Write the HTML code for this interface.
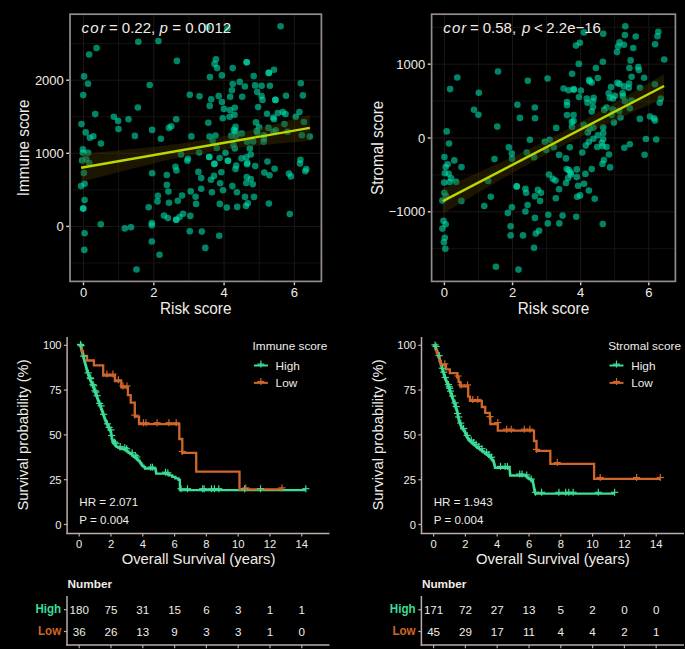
<!DOCTYPE html>
<html><head><meta charset="utf-8"><style>
html,body{margin:0;padding:0;background:#000;width:685px;height:649px;overflow:hidden}
svg{display:block;font-family:"Liberation Sans", sans-serif}
</style></head><body>
<svg width="685" height="649" viewBox="0 0 685 649">
<rect width="685" height="649" fill="#000"/>
<line x1="118.65" y1="14.20" x2="118.65" y2="281.40" stroke="#1c1714" stroke-width="0.8" />
<line x1="188.95" y1="14.20" x2="188.95" y2="281.40" stroke="#1c1714" stroke-width="0.8" />
<line x1="259.25" y1="14.20" x2="259.25" y2="281.40" stroke="#1c1714" stroke-width="0.8" />
<line x1="70.00" y1="262.95" x2="321.40" y2="262.95" stroke="#1c1714" stroke-width="0.8" />
<line x1="70.00" y1="189.85" x2="321.40" y2="189.85" stroke="#1c1714" stroke-width="0.8" />
<line x1="70.00" y1="116.75" x2="321.40" y2="116.75" stroke="#1c1714" stroke-width="0.8" />
<line x1="70.00" y1="43.65" x2="321.40" y2="43.65" stroke="#1c1714" stroke-width="0.8" />
<line x1="83.50" y1="14.20" x2="83.50" y2="281.40" stroke="#1c1714" stroke-width="1.0" />
<line x1="153.80" y1="14.20" x2="153.80" y2="281.40" stroke="#1c1714" stroke-width="1.0" />
<line x1="224.10" y1="14.20" x2="224.10" y2="281.40" stroke="#1c1714" stroke-width="1.0" />
<line x1="294.40" y1="14.20" x2="294.40" y2="281.40" stroke="#1c1714" stroke-width="1.0" />
<line x1="70.00" y1="226.40" x2="321.40" y2="226.40" stroke="#1c1714" stroke-width="1.0" />
<line x1="70.00" y1="153.30" x2="321.40" y2="153.30" stroke="#1c1714" stroke-width="1.0" />
<line x1="70.00" y1="80.20" x2="321.40" y2="80.20" stroke="#1c1714" stroke-width="1.0" />
<circle cx="138.3" cy="41.7" r="3.3" fill="#00e0aa" fill-opacity="0.6"/>
<circle cx="96.6" cy="48.0" r="3.3" fill="#00e0aa" fill-opacity="0.6"/>
<circle cx="89.1" cy="54.5" r="3.3" fill="#00e0aa" fill-opacity="0.6"/>
<circle cx="84.1" cy="76.4" r="3.3" fill="#00e0aa" fill-opacity="0.6"/>
<circle cx="88.0" cy="83.7" r="3.3" fill="#00e0aa" fill-opacity="0.6"/>
<circle cx="149.7" cy="85.0" r="3.3" fill="#00e0aa" fill-opacity="0.6"/>
<circle cx="83.2" cy="95.1" r="3.3" fill="#00e0aa" fill-opacity="0.6"/>
<circle cx="158.4" cy="41.0" r="3.3" fill="#00e0aa" fill-opacity="0.6"/>
<circle cx="176.9" cy="60.9" r="3.3" fill="#00e0aa" fill-opacity="0.6"/>
<circle cx="216.0" cy="59.3" r="3.3" fill="#00e0aa" fill-opacity="0.6"/>
<circle cx="214.6" cy="63.9" r="3.3" fill="#00e0aa" fill-opacity="0.6"/>
<circle cx="217.1" cy="68.1" r="3.3" fill="#00e0aa" fill-opacity="0.6"/>
<circle cx="232.7" cy="68.1" r="3.3" fill="#00e0aa" fill-opacity="0.6"/>
<circle cx="209.9" cy="77.1" r="3.3" fill="#00e0aa" fill-opacity="0.6"/>
<circle cx="221.9" cy="75.4" r="3.3" fill="#00e0aa" fill-opacity="0.6"/>
<circle cx="232.7" cy="84.0" r="3.3" fill="#00e0aa" fill-opacity="0.6"/>
<circle cx="231.9" cy="90.2" r="3.3" fill="#00e0aa" fill-opacity="0.6"/>
<circle cx="189.8" cy="94.7" r="3.3" fill="#00e0aa" fill-opacity="0.6"/>
<circle cx="199.5" cy="96.2" r="3.3" fill="#00e0aa" fill-opacity="0.6"/>
<circle cx="218.7" cy="96.1" r="3.3" fill="#00e0aa" fill-opacity="0.6"/>
<circle cx="230.2" cy="96.8" r="3.3" fill="#00e0aa" fill-opacity="0.6"/>
<circle cx="211.2" cy="99.3" r="3.3" fill="#00e0aa" fill-opacity="0.6"/>
<circle cx="221.9" cy="102.0" r="3.3" fill="#00e0aa" fill-opacity="0.6"/>
<circle cx="207.4" cy="27.2" r="3.3" fill="#00e0aa" fill-opacity="0.6"/>
<circle cx="227.5" cy="28.6" r="3.3" fill="#00e0aa" fill-opacity="0.6"/>
<circle cx="280.6" cy="26.2" r="3.3" fill="#00e0aa" fill-opacity="0.6"/>
<circle cx="246.7" cy="62.2" r="3.3" fill="#00e0aa" fill-opacity="0.6"/>
<circle cx="246.7" cy="62.2" r="3.3" fill="#00e0aa" fill-opacity="0.6"/>
<circle cx="274.0" cy="69.7" r="3.3" fill="#00e0aa" fill-opacity="0.6"/>
<circle cx="268.8" cy="72.9" r="3.3" fill="#00e0aa" fill-opacity="0.6"/>
<circle cx="268.8" cy="72.9" r="3.3" fill="#00e0aa" fill-opacity="0.6"/>
<circle cx="253.7" cy="76.1" r="3.3" fill="#00e0aa" fill-opacity="0.6"/>
<circle cx="239.7" cy="81.9" r="3.3" fill="#00e0aa" fill-opacity="0.6"/>
<circle cx="244.9" cy="86.5" r="3.3" fill="#00e0aa" fill-opacity="0.6"/>
<circle cx="255.1" cy="85.4" r="3.3" fill="#00e0aa" fill-opacity="0.6"/>
<circle cx="261.6" cy="85.7" r="3.3" fill="#00e0aa" fill-opacity="0.6"/>
<circle cx="269.9" cy="85.7" r="3.3" fill="#00e0aa" fill-opacity="0.6"/>
<circle cx="300.8" cy="83.3" r="3.3" fill="#00e0aa" fill-opacity="0.6"/>
<circle cx="257.1" cy="91.9" r="3.3" fill="#00e0aa" fill-opacity="0.6"/>
<circle cx="242.2" cy="96.8" r="3.3" fill="#00e0aa" fill-opacity="0.6"/>
<circle cx="261.6" cy="96.1" r="3.3" fill="#00e0aa" fill-opacity="0.6"/>
<circle cx="262.5" cy="99.9" r="3.3" fill="#00e0aa" fill-opacity="0.6"/>
<circle cx="275.4" cy="99.9" r="3.3" fill="#00e0aa" fill-opacity="0.6"/>
<circle cx="275.4" cy="99.9" r="3.3" fill="#00e0aa" fill-opacity="0.6"/>
<circle cx="286.0" cy="95.8" r="3.3" fill="#00e0aa" fill-opacity="0.6"/>
<circle cx="302.9" cy="95.4" r="3.3" fill="#00e0aa" fill-opacity="0.6"/>
<circle cx="137.9" cy="107.5" r="3.3" fill="#00e0aa" fill-opacity="0.6"/>
<circle cx="95.2" cy="114.1" r="3.3" fill="#00e0aa" fill-opacity="0.6"/>
<circle cx="113.8" cy="116.8" r="3.3" fill="#00e0aa" fill-opacity="0.6"/>
<circle cx="118.1" cy="120.9" r="3.3" fill="#00e0aa" fill-opacity="0.6"/>
<circle cx="128.5" cy="119.2" r="3.3" fill="#00e0aa" fill-opacity="0.6"/>
<circle cx="81.5" cy="124.1" r="3.3" fill="#00e0aa" fill-opacity="0.6"/>
<circle cx="118.5" cy="129.0" r="3.3" fill="#00e0aa" fill-opacity="0.6"/>
<circle cx="152.1" cy="129.9" r="3.3" fill="#00e0aa" fill-opacity="0.6"/>
<circle cx="85.7" cy="132.4" r="3.3" fill="#00e0aa" fill-opacity="0.6"/>
<circle cx="93.3" cy="136.2" r="3.3" fill="#00e0aa" fill-opacity="0.6"/>
<circle cx="89.8" cy="137.7" r="3.3" fill="#00e0aa" fill-opacity="0.6"/>
<circle cx="134.9" cy="135.9" r="3.3" fill="#00e0aa" fill-opacity="0.6"/>
<circle cx="100.9" cy="143.5" r="3.3" fill="#00e0aa" fill-opacity="0.6"/>
<circle cx="83.9" cy="173.0" r="3.3" fill="#00e0aa" fill-opacity="0.6"/>
<circle cx="152.1" cy="173.3" r="3.3" fill="#00e0aa" fill-opacity="0.6"/>
<circle cx="84.6" cy="183.7" r="3.3" fill="#00e0aa" fill-opacity="0.6"/>
<circle cx="81.1" cy="186.1" r="3.3" fill="#00e0aa" fill-opacity="0.6"/>
<circle cx="82.9" cy="149.2" r="3.3" fill="#00e0aa" fill-opacity="0.6"/>
<circle cx="82.9" cy="152.7" r="3.3" fill="#00e0aa" fill-opacity="0.6"/>
<circle cx="88.1" cy="152.7" r="3.3" fill="#00e0aa" fill-opacity="0.6"/>
<circle cx="82.1" cy="160.4" r="3.3" fill="#00e0aa" fill-opacity="0.6"/>
<circle cx="86.2" cy="159.3" r="3.3" fill="#00e0aa" fill-opacity="0.6"/>
<circle cx="89.3" cy="163.1" r="3.3" fill="#00e0aa" fill-opacity="0.6"/>
<circle cx="209.7" cy="105.9" r="3.3" fill="#00e0aa" fill-opacity="0.6"/>
<circle cx="223.9" cy="108.9" r="3.3" fill="#00e0aa" fill-opacity="0.6"/>
<circle cx="230.0" cy="110.1" r="3.3" fill="#00e0aa" fill-opacity="0.6"/>
<circle cx="234.8" cy="107.8" r="3.3" fill="#00e0aa" fill-opacity="0.6"/>
<circle cx="229.6" cy="116.8" r="3.3" fill="#00e0aa" fill-opacity="0.6"/>
<circle cx="234.5" cy="114.7" r="3.3" fill="#00e0aa" fill-opacity="0.6"/>
<circle cx="222.7" cy="118.2" r="3.3" fill="#00e0aa" fill-opacity="0.6"/>
<circle cx="208.3" cy="122.7" r="3.3" fill="#00e0aa" fill-opacity="0.6"/>
<circle cx="235.5" cy="126.9" r="3.3" fill="#00e0aa" fill-opacity="0.6"/>
<circle cx="233.8" cy="130.0" r="3.3" fill="#00e0aa" fill-opacity="0.6"/>
<circle cx="235.5" cy="131.4" r="3.3" fill="#00e0aa" fill-opacity="0.6"/>
<circle cx="209.5" cy="136.6" r="3.3" fill="#00e0aa" fill-opacity="0.6"/>
<circle cx="215.5" cy="135.5" r="3.3" fill="#00e0aa" fill-opacity="0.6"/>
<circle cx="212.6" cy="141.1" r="3.3" fill="#00e0aa" fill-opacity="0.6"/>
<circle cx="231.3" cy="135.9" r="3.3" fill="#00e0aa" fill-opacity="0.6"/>
<circle cx="236.2" cy="135.9" r="3.3" fill="#00e0aa" fill-opacity="0.6"/>
<circle cx="233.4" cy="144.9" r="3.3" fill="#00e0aa" fill-opacity="0.6"/>
<circle cx="216.8" cy="148.0" r="3.3" fill="#00e0aa" fill-opacity="0.6"/>
<circle cx="234.8" cy="148.4" r="3.3" fill="#00e0aa" fill-opacity="0.6"/>
<circle cx="176.2" cy="119.2" r="3.3" fill="#00e0aa" fill-opacity="0.6"/>
<circle cx="171.3" cy="126.2" r="3.3" fill="#00e0aa" fill-opacity="0.6"/>
<circle cx="168.9" cy="127.9" r="3.3" fill="#00e0aa" fill-opacity="0.6"/>
<circle cx="160.9" cy="138.7" r="3.3" fill="#00e0aa" fill-opacity="0.6"/>
<circle cx="191.4" cy="136.4" r="3.3" fill="#00e0aa" fill-opacity="0.6"/>
<circle cx="181.0" cy="154.4" r="3.3" fill="#00e0aa" fill-opacity="0.6"/>
<circle cx="188.0" cy="158.7" r="3.3" fill="#00e0aa" fill-opacity="0.6"/>
<circle cx="187.3" cy="160.8" r="3.3" fill="#00e0aa" fill-opacity="0.6"/>
<circle cx="175.5" cy="166.7" r="3.3" fill="#00e0aa" fill-opacity="0.6"/>
<circle cx="176.5" cy="170.5" r="3.3" fill="#00e0aa" fill-opacity="0.6"/>
<circle cx="166.8" cy="175.0" r="3.3" fill="#00e0aa" fill-opacity="0.6"/>
<circle cx="166.8" cy="184.9" r="3.3" fill="#00e0aa" fill-opacity="0.6"/>
<circle cx="168.4" cy="191.6" r="3.3" fill="#00e0aa" fill-opacity="0.6"/>
<circle cx="190.7" cy="191.4" r="3.3" fill="#00e0aa" fill-opacity="0.6"/>
<circle cx="199.1" cy="152.5" r="3.3" fill="#00e0aa" fill-opacity="0.6"/>
<circle cx="225.5" cy="152.8" r="3.3" fill="#00e0aa" fill-opacity="0.6"/>
<circle cx="209.2" cy="157.0" r="3.3" fill="#00e0aa" fill-opacity="0.6"/>
<circle cx="209.2" cy="157.0" r="3.3" fill="#00e0aa" fill-opacity="0.6"/>
<circle cx="219.6" cy="158.0" r="3.3" fill="#00e0aa" fill-opacity="0.6"/>
<circle cx="228.0" cy="160.8" r="3.3" fill="#00e0aa" fill-opacity="0.6"/>
<circle cx="228.0" cy="160.8" r="3.3" fill="#00e0aa" fill-opacity="0.6"/>
<circle cx="214.4" cy="163.9" r="3.3" fill="#00e0aa" fill-opacity="0.6"/>
<circle cx="214.4" cy="163.9" r="3.3" fill="#00e0aa" fill-opacity="0.6"/>
<circle cx="236.2" cy="165.6" r="3.3" fill="#00e0aa" fill-opacity="0.6"/>
<circle cx="235.5" cy="169.1" r="3.3" fill="#00e0aa" fill-opacity="0.6"/>
<circle cx="198.4" cy="171.9" r="3.3" fill="#00e0aa" fill-opacity="0.6"/>
<circle cx="221.3" cy="172.2" r="3.3" fill="#00e0aa" fill-opacity="0.6"/>
<circle cx="201.2" cy="178.1" r="3.3" fill="#00e0aa" fill-opacity="0.6"/>
<circle cx="214.0" cy="175.9" r="3.3" fill="#00e0aa" fill-opacity="0.6"/>
<circle cx="210.9" cy="179.7" r="3.3" fill="#00e0aa" fill-opacity="0.6"/>
<circle cx="220.1" cy="183.2" r="3.3" fill="#00e0aa" fill-opacity="0.6"/>
<circle cx="232.4" cy="186.1" r="3.3" fill="#00e0aa" fill-opacity="0.6"/>
<circle cx="201.2" cy="188.8" r="3.3" fill="#00e0aa" fill-opacity="0.6"/>
<circle cx="223.0" cy="190.2" r="3.3" fill="#00e0aa" fill-opacity="0.6"/>
<circle cx="211.9" cy="192.3" r="3.3" fill="#00e0aa" fill-opacity="0.6"/>
<circle cx="236.9" cy="192.3" r="3.3" fill="#00e0aa" fill-opacity="0.6"/>
<circle cx="258.1" cy="107.1" r="3.3" fill="#00e0aa" fill-opacity="0.6"/>
<circle cx="267.0" cy="113.8" r="3.3" fill="#00e0aa" fill-opacity="0.6"/>
<circle cx="277.8" cy="113.0" r="3.3" fill="#00e0aa" fill-opacity="0.6"/>
<circle cx="273.3" cy="117.5" r="3.3" fill="#00e0aa" fill-opacity="0.6"/>
<circle cx="274.0" cy="119.2" r="3.3" fill="#00e0aa" fill-opacity="0.6"/>
<circle cx="256.0" cy="122.4" r="3.3" fill="#00e0aa" fill-opacity="0.6"/>
<circle cx="259.1" cy="127.2" r="3.3" fill="#00e0aa" fill-opacity="0.6"/>
<circle cx="268.5" cy="127.9" r="3.3" fill="#00e0aa" fill-opacity="0.6"/>
<circle cx="241.8" cy="133.5" r="3.3" fill="#00e0aa" fill-opacity="0.6"/>
<circle cx="256.7" cy="131.0" r="3.3" fill="#00e0aa" fill-opacity="0.6"/>
<circle cx="257.4" cy="133.1" r="3.3" fill="#00e0aa" fill-opacity="0.6"/>
<circle cx="275.8" cy="130.3" r="3.3" fill="#00e0aa" fill-opacity="0.6"/>
<circle cx="273.3" cy="131.7" r="3.3" fill="#00e0aa" fill-opacity="0.6"/>
<circle cx="264.0" cy="135.2" r="3.3" fill="#00e0aa" fill-opacity="0.6"/>
<circle cx="264.0" cy="138.7" r="3.3" fill="#00e0aa" fill-opacity="0.6"/>
<circle cx="247.0" cy="141.8" r="3.3" fill="#00e0aa" fill-opacity="0.6"/>
<circle cx="253.2" cy="141.4" r="3.3" fill="#00e0aa" fill-opacity="0.6"/>
<circle cx="263.6" cy="141.8" r="3.3" fill="#00e0aa" fill-opacity="0.6"/>
<circle cx="249.8" cy="148.4" r="3.3" fill="#00e0aa" fill-opacity="0.6"/>
<circle cx="282.8" cy="112.0" r="3.3" fill="#00e0aa" fill-opacity="0.6"/>
<circle cx="285.5" cy="114.0" r="3.3" fill="#00e0aa" fill-opacity="0.6"/>
<circle cx="299.4" cy="112.0" r="3.3" fill="#00e0aa" fill-opacity="0.6"/>
<circle cx="295.8" cy="116.7" r="3.3" fill="#00e0aa" fill-opacity="0.6"/>
<circle cx="303.9" cy="122.0" r="3.3" fill="#00e0aa" fill-opacity="0.6"/>
<circle cx="284.5" cy="124.1" r="3.3" fill="#00e0aa" fill-opacity="0.6"/>
<circle cx="287.6" cy="131.7" r="3.3" fill="#00e0aa" fill-opacity="0.6"/>
<circle cx="301.8" cy="135.2" r="3.3" fill="#00e0aa" fill-opacity="0.6"/>
<circle cx="309.8" cy="136.6" r="3.3" fill="#00e0aa" fill-opacity="0.6"/>
<circle cx="250.8" cy="154.5" r="3.3" fill="#00e0aa" fill-opacity="0.6"/>
<circle cx="241.5" cy="158.4" r="3.3" fill="#00e0aa" fill-opacity="0.6"/>
<circle cx="246.3" cy="157.3" r="3.3" fill="#00e0aa" fill-opacity="0.6"/>
<circle cx="247.4" cy="162.9" r="3.3" fill="#00e0aa" fill-opacity="0.6"/>
<circle cx="247.0" cy="164.2" r="3.3" fill="#00e0aa" fill-opacity="0.6"/>
<circle cx="255.2" cy="166.0" r="3.3" fill="#00e0aa" fill-opacity="0.6"/>
<circle cx="267.5" cy="161.5" r="3.3" fill="#00e0aa" fill-opacity="0.6"/>
<circle cx="274.6" cy="168.8" r="3.3" fill="#00e0aa" fill-opacity="0.6"/>
<circle cx="264.3" cy="172.6" r="3.3" fill="#00e0aa" fill-opacity="0.6"/>
<circle cx="269.5" cy="175.3" r="3.3" fill="#00e0aa" fill-opacity="0.6"/>
<circle cx="246.7" cy="177.1" r="3.3" fill="#00e0aa" fill-opacity="0.6"/>
<circle cx="250.8" cy="179.1" r="3.3" fill="#00e0aa" fill-opacity="0.6"/>
<circle cx="246.3" cy="183.0" r="3.3" fill="#00e0aa" fill-opacity="0.6"/>
<circle cx="252.9" cy="184.3" r="3.3" fill="#00e0aa" fill-opacity="0.6"/>
<circle cx="300.4" cy="159.7" r="3.3" fill="#00e0aa" fill-opacity="0.6"/>
<circle cx="300.0" cy="163.6" r="3.3" fill="#00e0aa" fill-opacity="0.6"/>
<circle cx="306.3" cy="169.1" r="3.3" fill="#00e0aa" fill-opacity="0.6"/>
<circle cx="305.3" cy="171.2" r="3.3" fill="#00e0aa" fill-opacity="0.6"/>
<circle cx="289.0" cy="173.6" r="3.3" fill="#00e0aa" fill-opacity="0.6"/>
<circle cx="290.9" cy="176.4" r="3.3" fill="#00e0aa" fill-opacity="0.6"/>
<circle cx="84.6" cy="200.0" r="3.3" fill="#00e0aa" fill-opacity="0.6"/>
<circle cx="83.2" cy="208.6" r="3.3" fill="#00e0aa" fill-opacity="0.6"/>
<circle cx="83.2" cy="208.6" r="3.3" fill="#00e0aa" fill-opacity="0.6"/>
<circle cx="148.7" cy="207.2" r="3.3" fill="#00e0aa" fill-opacity="0.6"/>
<circle cx="100.8" cy="224.2" r="3.3" fill="#00e0aa" fill-opacity="0.6"/>
<circle cx="124.8" cy="228.4" r="3.3" fill="#00e0aa" fill-opacity="0.6"/>
<circle cx="131.0" cy="227.3" r="3.3" fill="#00e0aa" fill-opacity="0.6"/>
<circle cx="151.8" cy="223.1" r="3.3" fill="#00e0aa" fill-opacity="0.6"/>
<circle cx="151.8" cy="225.2" r="3.3" fill="#00e0aa" fill-opacity="0.6"/>
<circle cx="84.6" cy="233.2" r="3.3" fill="#00e0aa" fill-opacity="0.6"/>
<circle cx="151.8" cy="241.5" r="3.3" fill="#00e0aa" fill-opacity="0.6"/>
<circle cx="84.3" cy="249.9" r="3.3" fill="#00e0aa" fill-opacity="0.6"/>
<circle cx="136.5" cy="269.5" r="3.3" fill="#00e0aa" fill-opacity="0.6"/>
<circle cx="157.9" cy="195.8" r="3.3" fill="#00e0aa" fill-opacity="0.6"/>
<circle cx="157.5" cy="201.4" r="3.3" fill="#00e0aa" fill-opacity="0.6"/>
<circle cx="169.0" cy="202.8" r="3.3" fill="#00e0aa" fill-opacity="0.6"/>
<circle cx="177.8" cy="200.7" r="3.3" fill="#00e0aa" fill-opacity="0.6"/>
<circle cx="182.1" cy="195.5" r="3.3" fill="#00e0aa" fill-opacity="0.6"/>
<circle cx="195.6" cy="196.7" r="3.3" fill="#00e0aa" fill-opacity="0.6"/>
<circle cx="196.1" cy="203.9" r="3.3" fill="#00e0aa" fill-opacity="0.6"/>
<circle cx="219.8" cy="203.9" r="3.3" fill="#00e0aa" fill-opacity="0.6"/>
<circle cx="226.8" cy="207.6" r="3.3" fill="#00e0aa" fill-opacity="0.6"/>
<circle cx="237.2" cy="206.9" r="3.3" fill="#00e0aa" fill-opacity="0.6"/>
<circle cx="164.0" cy="215.6" r="3.3" fill="#00e0aa" fill-opacity="0.6"/>
<circle cx="167.9" cy="218.0" r="3.3" fill="#00e0aa" fill-opacity="0.6"/>
<circle cx="176.2" cy="219.8" r="3.3" fill="#00e0aa" fill-opacity="0.6"/>
<circle cx="176.2" cy="219.8" r="3.3" fill="#00e0aa" fill-opacity="0.6"/>
<circle cx="179.6" cy="217.0" r="3.3" fill="#00e0aa" fill-opacity="0.6"/>
<circle cx="183.1" cy="213.8" r="3.3" fill="#00e0aa" fill-opacity="0.6"/>
<circle cx="190.3" cy="215.9" r="3.3" fill="#00e0aa" fill-opacity="0.6"/>
<circle cx="189.8" cy="231.2" r="3.3" fill="#00e0aa" fill-opacity="0.6"/>
<circle cx="201.8" cy="231.6" r="3.3" fill="#00e0aa" fill-opacity="0.6"/>
<circle cx="219.2" cy="235.7" r="3.3" fill="#00e0aa" fill-opacity="0.6"/>
<circle cx="205.3" cy="247.9" r="3.3" fill="#00e0aa" fill-opacity="0.6"/>
<circle cx="159.5" cy="254.7" r="3.3" fill="#00e0aa" fill-opacity="0.6"/>
<circle cx="245.0" cy="196.9" r="3.3" fill="#00e0aa" fill-opacity="0.6"/>
<circle cx="254.0" cy="196.9" r="3.3" fill="#00e0aa" fill-opacity="0.6"/>
<circle cx="247.8" cy="203.2" r="3.3" fill="#00e0aa" fill-opacity="0.6"/>
<circle cx="246.0" cy="206.0" r="3.3" fill="#00e0aa" fill-opacity="0.6"/>
<circle cx="268.9" cy="203.6" r="3.3" fill="#00e0aa" fill-opacity="0.6"/>
<circle cx="289.8" cy="214.0" r="3.3" fill="#00e0aa" fill-opacity="0.6"/>
<polygon points="81.1,153.6 86.8,153.1 92.5,152.7 98.3,152.2 104.0,151.7 109.7,151.2 115.4,150.7 121.1,150.1 126.9,149.6 132.6,149.1 138.3,148.5 144.0,147.9 149.7,147.3 155.5,146.7 161.2,146.0 166.9,145.3 172.6,144.6 178.3,143.9 184.1,143.1 189.8,142.2 195.5,141.3 201.2,140.3 206.9,139.3 212.7,138.3 218.4,137.2 224.1,136.0 229.8,134.8 235.5,133.5 241.3,132.3 247.0,130.9 252.7,129.6 258.4,128.2 264.1,126.8 269.9,125.4 275.6,124.0 281.3,122.5 287.0,121.0 292.7,119.6 298.5,118.1 304.2,116.6 309.9,115.1 309.9,140.7 304.2,141.2 298.5,141.7 292.7,142.2 287.0,142.7 281.3,143.3 275.6,143.8 269.9,144.4 264.1,144.9 258.4,145.5 252.7,146.2 247.0,146.8 241.3,147.5 235.5,148.2 229.8,148.9 224.1,149.7 218.4,150.6 212.7,151.4 206.9,152.4 201.2,153.4 195.5,154.4 189.8,155.5 184.1,156.6 178.3,157.8 172.6,159.1 166.9,160.3 161.2,161.6 155.5,163.0 149.7,164.4 144.0,165.7 138.3,167.2 132.6,168.6 126.9,170.0 121.1,171.5 115.4,173.0 109.7,174.4 104.0,175.9 98.3,177.4 92.5,179.0 86.8,180.5 81.1,182.0" fill="#463700" fill-opacity="0.4"/>
<line x1="81.10" y1="167.80" x2="309.90" y2="127.90" stroke="#bcd800" stroke-width="2.4" stroke-linecap="butt"/>
<rect x="70.00" y="14.20" width="251.40" height="267.20" fill="none" stroke="#958c88" stroke-width="1.7"/>
<line x1="83.50" y1="282.40" x2="83.50" y2="285.20" stroke="#ddd6d4" stroke-width="1.4" />
<text x="83.50" y="297.00" font-size="13" text-anchor="middle" fill="#f0ece8" font-weight="normal" font-style="normal" >0</text>
<line x1="153.80" y1="282.40" x2="153.80" y2="285.20" stroke="#ddd6d4" stroke-width="1.4" />
<text x="153.80" y="297.00" font-size="13" text-anchor="middle" fill="#f0ece8" font-weight="normal" font-style="normal" >2</text>
<line x1="224.10" y1="282.40" x2="224.10" y2="285.20" stroke="#ddd6d4" stroke-width="1.4" />
<text x="224.10" y="297.00" font-size="13" text-anchor="middle" fill="#f0ece8" font-weight="normal" font-style="normal" >4</text>
<line x1="294.40" y1="282.40" x2="294.40" y2="285.20" stroke="#ddd6d4" stroke-width="1.4" />
<text x="294.40" y="297.00" font-size="13" text-anchor="middle" fill="#f0ece8" font-weight="normal" font-style="normal" >6</text>
<line x1="66.20" y1="226.40" x2="69.00" y2="226.40" stroke="#ddd6d4" stroke-width="1.4" />
<text x="63.80" y="231.00" font-size="13" text-anchor="end" fill="#f0ece8" font-weight="normal" font-style="normal" >0</text>
<line x1="66.20" y1="153.30" x2="69.00" y2="153.30" stroke="#ddd6d4" stroke-width="1.4" />
<text x="63.80" y="157.90" font-size="13" text-anchor="end" fill="#f0ece8" font-weight="normal" font-style="normal" >1000</text>
<line x1="66.20" y1="80.20" x2="69.00" y2="80.20" stroke="#ddd6d4" stroke-width="1.4" />
<text x="63.80" y="84.80" font-size="13" text-anchor="end" fill="#f0ece8" font-weight="normal" font-style="normal" >2000</text>
<g transform="translate(195.70,313.60) scale(1,1.03)"><text x="0" y="0" font-size="15.3" text-anchor="middle" fill="#f0ece8" font-weight="normal">Risk score</text></g>
<text x="0" y="0" font-size="15.3" text-anchor="middle" fill="#f0ece8" transform="translate(28.90,147.80) rotate(-90) scale(1,1.03)">Immune score</text>
<g transform="translate(81.50,32.8) scale(1,1.03)"><text x="0" y="0" font-size="15" fill="#f0ece8" font-style="italic">c</text></g><g transform="translate(90.30,32.8) scale(1,1.03)"><text x="0" y="0" font-size="15" fill="#f0ece8" font-style="italic">o</text></g><g transform="translate(100.20,32.8) scale(1,1.03)"><text x="0" y="0" font-size="15" fill="#f0ece8" font-style="italic">r</text></g><g transform="translate(109.00,32.8) scale(1,1.03)"><text x="0" y="0" font-size="15" fill="#f0ece8">=</text></g><g transform="translate(121.80,32.8) scale(1,1.03)"><text x="0" y="0" font-size="15" fill="#f0ece8">0.22,</text></g><g transform="translate(159.60,32.8) scale(1,1.03)"><text x="0" y="0" font-size="15" fill="#f0ece8" font-style="italic">p</text></g><g transform="translate(172.30,32.8) scale(1,1.03)"><text x="0" y="0" font-size="15" fill="#f0ece8">=</text></g><g transform="translate(185.20,32.8) scale(1,1.03)"><text x="0" y="0" font-size="15" fill="#f0ece8">0.0012</text></g>
<line x1="478.47" y1="14.20" x2="478.47" y2="281.40" stroke="#1c1714" stroke-width="0.8" />
<line x1="546.61" y1="14.20" x2="546.61" y2="281.40" stroke="#1c1714" stroke-width="0.8" />
<line x1="614.75" y1="14.20" x2="614.75" y2="281.40" stroke="#1c1714" stroke-width="0.8" />
<line x1="431.60" y1="248.70" x2="675.40" y2="248.70" stroke="#1c1714" stroke-width="0.8" />
<line x1="431.60" y1="174.90" x2="675.40" y2="174.90" stroke="#1c1714" stroke-width="0.8" />
<line x1="431.60" y1="101.10" x2="675.40" y2="101.10" stroke="#1c1714" stroke-width="0.8" />
<line x1="431.60" y1="27.30" x2="675.40" y2="27.30" stroke="#1c1714" stroke-width="0.8" />
<line x1="444.40" y1="14.20" x2="444.40" y2="281.40" stroke="#1c1714" stroke-width="1.0" />
<line x1="512.54" y1="14.20" x2="512.54" y2="281.40" stroke="#1c1714" stroke-width="1.0" />
<line x1="580.68" y1="14.20" x2="580.68" y2="281.40" stroke="#1c1714" stroke-width="1.0" />
<line x1="648.82" y1="14.20" x2="648.82" y2="281.40" stroke="#1c1714" stroke-width="1.0" />
<line x1="431.60" y1="211.80" x2="675.40" y2="211.80" stroke="#1c1714" stroke-width="1.0" />
<line x1="431.60" y1="138.00" x2="675.40" y2="138.00" stroke="#1c1714" stroke-width="1.0" />
<line x1="431.60" y1="64.20" x2="675.40" y2="64.20" stroke="#1c1714" stroke-width="1.0" />
<circle cx="498.0" cy="71.5" r="3.3" fill="#00e0aa" fill-opacity="0.6"/>
<circle cx="457.3" cy="77.5" r="3.3" fill="#00e0aa" fill-opacity="0.6"/>
<circle cx="450.1" cy="89.1" r="3.3" fill="#00e0aa" fill-opacity="0.6"/>
<circle cx="478.8" cy="92.7" r="3.3" fill="#00e0aa" fill-opacity="0.6"/>
<circle cx="584.0" cy="32.4" r="3.3" fill="#00e0aa" fill-opacity="0.6"/>
<circle cx="579.9" cy="42.8" r="3.3" fill="#00e0aa" fill-opacity="0.6"/>
<circle cx="576.0" cy="45.6" r="3.3" fill="#00e0aa" fill-opacity="0.6"/>
<circle cx="547.6" cy="78.5" r="3.3" fill="#00e0aa" fill-opacity="0.6"/>
<circle cx="527.8" cy="80.8" r="3.3" fill="#00e0aa" fill-opacity="0.6"/>
<circle cx="517.4" cy="104.8" r="3.3" fill="#00e0aa" fill-opacity="0.6"/>
<circle cx="578.8" cy="63.9" r="3.3" fill="#00e0aa" fill-opacity="0.6"/>
<circle cx="595.9" cy="68.0" r="3.3" fill="#00e0aa" fill-opacity="0.6"/>
<circle cx="572.1" cy="73.8" r="3.3" fill="#00e0aa" fill-opacity="0.6"/>
<circle cx="597.9" cy="78.1" r="3.3" fill="#00e0aa" fill-opacity="0.6"/>
<circle cx="589.2" cy="79.8" r="3.3" fill="#00e0aa" fill-opacity="0.6"/>
<circle cx="589.6" cy="81.2" r="3.3" fill="#00e0aa" fill-opacity="0.6"/>
<circle cx="591.7" cy="82.6" r="3.3" fill="#00e0aa" fill-opacity="0.6"/>
<circle cx="563.6" cy="88.5" r="3.3" fill="#00e0aa" fill-opacity="0.6"/>
<circle cx="568.6" cy="90.2" r="3.3" fill="#00e0aa" fill-opacity="0.6"/>
<circle cx="573.6" cy="89.1" r="3.3" fill="#00e0aa" fill-opacity="0.6"/>
<circle cx="574.0" cy="89.8" r="3.3" fill="#00e0aa" fill-opacity="0.6"/>
<circle cx="580.9" cy="90.5" r="3.3" fill="#00e0aa" fill-opacity="0.6"/>
<circle cx="579.0" cy="97.0" r="3.3" fill="#00e0aa" fill-opacity="0.6"/>
<circle cx="586.8" cy="98.5" r="3.3" fill="#00e0aa" fill-opacity="0.6"/>
<circle cx="593.7" cy="97.8" r="3.3" fill="#00e0aa" fill-opacity="0.6"/>
<circle cx="593.0" cy="101.3" r="3.3" fill="#00e0aa" fill-opacity="0.6"/>
<circle cx="587.5" cy="102.7" r="3.3" fill="#00e0aa" fill-opacity="0.6"/>
<circle cx="567.0" cy="102.0" r="3.3" fill="#00e0aa" fill-opacity="0.6"/>
<circle cx="603.2" cy="33.8" r="3.3" fill="#00e0aa" fill-opacity="0.6"/>
<circle cx="625.3" cy="26.2" r="3.3" fill="#00e0aa" fill-opacity="0.6"/>
<circle cx="624.9" cy="35.1" r="3.3" fill="#00e0aa" fill-opacity="0.6"/>
<circle cx="635.7" cy="36.5" r="3.3" fill="#00e0aa" fill-opacity="0.6"/>
<circle cx="619.5" cy="42.4" r="3.3" fill="#00e0aa" fill-opacity="0.6"/>
<circle cx="618.1" cy="46.6" r="3.3" fill="#00e0aa" fill-opacity="0.6"/>
<circle cx="624.0" cy="44.8" r="3.3" fill="#00e0aa" fill-opacity="0.6"/>
<circle cx="617.0" cy="52.1" r="3.3" fill="#00e0aa" fill-opacity="0.6"/>
<circle cx="633.2" cy="48.0" r="3.3" fill="#00e0aa" fill-opacity="0.6"/>
<circle cx="658.3" cy="31.7" r="3.3" fill="#00e0aa" fill-opacity="0.6"/>
<circle cx="657.5" cy="36.2" r="3.3" fill="#00e0aa" fill-opacity="0.6"/>
<circle cx="655.1" cy="44.2" r="3.3" fill="#00e0aa" fill-opacity="0.6"/>
<circle cx="664.2" cy="59.5" r="3.3" fill="#00e0aa" fill-opacity="0.6"/>
<circle cx="602.9" cy="61.8" r="3.3" fill="#00e0aa" fill-opacity="0.6"/>
<circle cx="630.6" cy="60.4" r="3.3" fill="#00e0aa" fill-opacity="0.6"/>
<circle cx="629.4" cy="68.0" r="3.3" fill="#00e0aa" fill-opacity="0.6"/>
<circle cx="638.2" cy="67.0" r="3.3" fill="#00e0aa" fill-opacity="0.6"/>
<circle cx="638.8" cy="70.1" r="3.3" fill="#00e0aa" fill-opacity="0.6"/>
<circle cx="631.6" cy="76.7" r="3.3" fill="#00e0aa" fill-opacity="0.6"/>
<circle cx="617.4" cy="82.9" r="3.3" fill="#00e0aa" fill-opacity="0.6"/>
<circle cx="619.4" cy="83.9" r="3.3" fill="#00e0aa" fill-opacity="0.6"/>
<circle cx="623.9" cy="86.4" r="3.3" fill="#00e0aa" fill-opacity="0.6"/>
<circle cx="629.1" cy="83.6" r="3.3" fill="#00e0aa" fill-opacity="0.6"/>
<circle cx="628.8" cy="87.8" r="3.3" fill="#00e0aa" fill-opacity="0.6"/>
<circle cx="611.1" cy="87.1" r="3.3" fill="#00e0aa" fill-opacity="0.6"/>
<circle cx="639.9" cy="87.8" r="3.3" fill="#00e0aa" fill-opacity="0.6"/>
<circle cx="608.7" cy="93.3" r="3.3" fill="#00e0aa" fill-opacity="0.6"/>
<circle cx="609.7" cy="97.8" r="3.3" fill="#00e0aa" fill-opacity="0.6"/>
<circle cx="612.9" cy="98.5" r="3.3" fill="#00e0aa" fill-opacity="0.6"/>
<circle cx="614.9" cy="95.7" r="3.3" fill="#00e0aa" fill-opacity="0.6"/>
<circle cx="622.6" cy="93.3" r="3.3" fill="#00e0aa" fill-opacity="0.6"/>
<circle cx="622.9" cy="96.4" r="3.3" fill="#00e0aa" fill-opacity="0.6"/>
<circle cx="625.0" cy="101.3" r="3.3" fill="#00e0aa" fill-opacity="0.6"/>
<circle cx="631.6" cy="100.6" r="3.3" fill="#00e0aa" fill-opacity="0.6"/>
<circle cx="644.1" cy="77.7" r="3.3" fill="#00e0aa" fill-opacity="0.6"/>
<circle cx="654.9" cy="84.3" r="3.3" fill="#00e0aa" fill-opacity="0.6"/>
<circle cx="660.8" cy="98.5" r="3.3" fill="#00e0aa" fill-opacity="0.6"/>
<circle cx="659.7" cy="102.7" r="3.3" fill="#00e0aa" fill-opacity="0.6"/>
<circle cx="474.0" cy="109.8" r="3.3" fill="#00e0aa" fill-opacity="0.6"/>
<circle cx="478.4" cy="114.8" r="3.3" fill="#00e0aa" fill-opacity="0.6"/>
<circle cx="497.3" cy="126.6" r="3.3" fill="#00e0aa" fill-opacity="0.6"/>
<circle cx="446.7" cy="131.4" r="3.3" fill="#00e0aa" fill-opacity="0.6"/>
<circle cx="449.0" cy="143.5" r="3.3" fill="#00e0aa" fill-opacity="0.6"/>
<circle cx="508.9" cy="147.4" r="3.3" fill="#00e0aa" fill-opacity="0.6"/>
<circle cx="511.8" cy="153.6" r="3.3" fill="#00e0aa" fill-opacity="0.6"/>
<circle cx="512.1" cy="158.8" r="3.3" fill="#00e0aa" fill-opacity="0.6"/>
<circle cx="444.4" cy="157.0" r="3.3" fill="#00e0aa" fill-opacity="0.6"/>
<circle cx="454.3" cy="160.4" r="3.3" fill="#00e0aa" fill-opacity="0.6"/>
<circle cx="494.5" cy="159.0" r="3.3" fill="#00e0aa" fill-opacity="0.6"/>
<circle cx="447.6" cy="164.3" r="3.3" fill="#00e0aa" fill-opacity="0.6"/>
<circle cx="445.6" cy="167.1" r="3.3" fill="#00e0aa" fill-opacity="0.6"/>
<circle cx="461.5" cy="167.1" r="3.3" fill="#00e0aa" fill-opacity="0.6"/>
<circle cx="444.9" cy="173.3" r="3.3" fill="#00e0aa" fill-opacity="0.6"/>
<circle cx="448.7" cy="173.7" r="3.3" fill="#00e0aa" fill-opacity="0.6"/>
<circle cx="451.1" cy="178.2" r="3.3" fill="#00e0aa" fill-opacity="0.6"/>
<circle cx="444.2" cy="182.6" r="3.3" fill="#00e0aa" fill-opacity="0.6"/>
<circle cx="449.7" cy="182.0" r="3.3" fill="#00e0aa" fill-opacity="0.6"/>
<circle cx="456.2" cy="181.9" r="3.3" fill="#00e0aa" fill-opacity="0.6"/>
<circle cx="488.2" cy="180.9" r="3.3" fill="#00e0aa" fill-opacity="0.6"/>
<circle cx="444.4" cy="192.7" r="3.3" fill="#00e0aa" fill-opacity="0.6"/>
<circle cx="445.9" cy="195.7" r="3.3" fill="#00e0aa" fill-opacity="0.6"/>
<circle cx="442.4" cy="200.6" r="3.3" fill="#00e0aa" fill-opacity="0.6"/>
<circle cx="461.4" cy="200.9" r="3.3" fill="#00e0aa" fill-opacity="0.6"/>
<circle cx="534.8" cy="107.5" r="3.3" fill="#00e0aa" fill-opacity="0.6"/>
<circle cx="519.9" cy="117.9" r="3.3" fill="#00e0aa" fill-opacity="0.6"/>
<circle cx="535.0" cy="118.2" r="3.3" fill="#00e0aa" fill-opacity="0.6"/>
<circle cx="556.2" cy="127.9" r="3.3" fill="#00e0aa" fill-opacity="0.6"/>
<circle cx="529.9" cy="139.7" r="3.3" fill="#00e0aa" fill-opacity="0.6"/>
<circle cx="544.8" cy="141.8" r="3.3" fill="#00e0aa" fill-opacity="0.6"/>
<circle cx="549.7" cy="139.7" r="3.3" fill="#00e0aa" fill-opacity="0.6"/>
<circle cx="553.8" cy="147.3" r="3.3" fill="#00e0aa" fill-opacity="0.6"/>
<circle cx="593.0" cy="107.1" r="3.3" fill="#00e0aa" fill-opacity="0.6"/>
<circle cx="591.7" cy="111.6" r="3.3" fill="#00e0aa" fill-opacity="0.6"/>
<circle cx="567.0" cy="115.1" r="3.3" fill="#00e0aa" fill-opacity="0.6"/>
<circle cx="573.6" cy="115.1" r="3.3" fill="#00e0aa" fill-opacity="0.6"/>
<circle cx="571.9" cy="121.7" r="3.3" fill="#00e0aa" fill-opacity="0.6"/>
<circle cx="573.6" cy="121.0" r="3.3" fill="#00e0aa" fill-opacity="0.6"/>
<circle cx="571.9" cy="126.9" r="3.3" fill="#00e0aa" fill-opacity="0.6"/>
<circle cx="583.7" cy="124.8" r="3.3" fill="#00e0aa" fill-opacity="0.6"/>
<circle cx="593.4" cy="127.6" r="3.3" fill="#00e0aa" fill-opacity="0.6"/>
<circle cx="589.6" cy="128.9" r="3.3" fill="#00e0aa" fill-opacity="0.6"/>
<circle cx="587.8" cy="132.4" r="3.3" fill="#00e0aa" fill-opacity="0.6"/>
<circle cx="597.9" cy="135.2" r="3.3" fill="#00e0aa" fill-opacity="0.6"/>
<circle cx="593.4" cy="138.7" r="3.3" fill="#00e0aa" fill-opacity="0.6"/>
<circle cx="588.9" cy="141.8" r="3.3" fill="#00e0aa" fill-opacity="0.6"/>
<circle cx="585.8" cy="145.6" r="3.3" fill="#00e0aa" fill-opacity="0.6"/>
<circle cx="569.8" cy="147.3" r="3.3" fill="#00e0aa" fill-opacity="0.6"/>
<circle cx="597.2" cy="147.0" r="3.3" fill="#00e0aa" fill-opacity="0.6"/>
<circle cx="606.6" cy="107.5" r="3.3" fill="#00e0aa" fill-opacity="0.6"/>
<circle cx="604.2" cy="109.9" r="3.3" fill="#00e0aa" fill-opacity="0.6"/>
<circle cx="612.9" cy="109.5" r="3.3" fill="#00e0aa" fill-opacity="0.6"/>
<circle cx="619.1" cy="110.9" r="3.3" fill="#00e0aa" fill-opacity="0.6"/>
<circle cx="611.5" cy="115.1" r="3.3" fill="#00e0aa" fill-opacity="0.6"/>
<circle cx="629.8" cy="108.2" r="3.3" fill="#00e0aa" fill-opacity="0.6"/>
<circle cx="620.5" cy="117.5" r="3.3" fill="#00e0aa" fill-opacity="0.6"/>
<circle cx="613.9" cy="122.6" r="3.3" fill="#00e0aa" fill-opacity="0.6"/>
<circle cx="639.9" cy="118.9" r="3.3" fill="#00e0aa" fill-opacity="0.6"/>
<circle cx="603.2" cy="127.6" r="3.3" fill="#00e0aa" fill-opacity="0.6"/>
<circle cx="603.2" cy="133.1" r="3.3" fill="#00e0aa" fill-opacity="0.6"/>
<circle cx="603.2" cy="139.3" r="3.3" fill="#00e0aa" fill-opacity="0.6"/>
<circle cx="601.8" cy="142.8" r="3.3" fill="#00e0aa" fill-opacity="0.6"/>
<circle cx="602.5" cy="146.3" r="3.3" fill="#00e0aa" fill-opacity="0.6"/>
<circle cx="606.6" cy="147.0" r="3.3" fill="#00e0aa" fill-opacity="0.6"/>
<circle cx="629.8" cy="144.2" r="3.3" fill="#00e0aa" fill-opacity="0.6"/>
<circle cx="624.3" cy="147.7" r="3.3" fill="#00e0aa" fill-opacity="0.6"/>
<circle cx="650.0" cy="116.5" r="3.3" fill="#00e0aa" fill-opacity="0.6"/>
<circle cx="654.2" cy="118.2" r="3.3" fill="#00e0aa" fill-opacity="0.6"/>
<circle cx="654.9" cy="120.6" r="3.3" fill="#00e0aa" fill-opacity="0.6"/>
<circle cx="645.9" cy="139.0" r="3.3" fill="#00e0aa" fill-opacity="0.6"/>
<circle cx="656.2" cy="139.5" r="3.3" fill="#00e0aa" fill-opacity="0.6"/>
<circle cx="526.8" cy="152.5" r="3.3" fill="#00e0aa" fill-opacity="0.6"/>
<circle cx="534.1" cy="157.3" r="3.3" fill="#00e0aa" fill-opacity="0.6"/>
<circle cx="546.2" cy="150.0" r="3.3" fill="#00e0aa" fill-opacity="0.6"/>
<circle cx="549.0" cy="174.6" r="3.3" fill="#00e0aa" fill-opacity="0.6"/>
<circle cx="552.8" cy="178.8" r="3.3" fill="#00e0aa" fill-opacity="0.6"/>
<circle cx="555.5" cy="180.5" r="3.3" fill="#00e0aa" fill-opacity="0.6"/>
<circle cx="516.7" cy="186.4" r="3.3" fill="#00e0aa" fill-opacity="0.6"/>
<circle cx="525.4" cy="188.8" r="3.3" fill="#00e0aa" fill-opacity="0.6"/>
<circle cx="526.1" cy="192.7" r="3.3" fill="#00e0aa" fill-opacity="0.6"/>
<circle cx="537.9" cy="189.9" r="3.3" fill="#00e0aa" fill-opacity="0.6"/>
<circle cx="541.0" cy="192.7" r="3.3" fill="#00e0aa" fill-opacity="0.6"/>
<circle cx="582.3" cy="152.5" r="3.3" fill="#00e0aa" fill-opacity="0.6"/>
<circle cx="559.1" cy="154.9" r="3.3" fill="#00e0aa" fill-opacity="0.6"/>
<circle cx="566.0" cy="158.4" r="3.3" fill="#00e0aa" fill-opacity="0.6"/>
<circle cx="566.7" cy="169.1" r="3.3" fill="#00e0aa" fill-opacity="0.6"/>
<circle cx="568.8" cy="170.1" r="3.3" fill="#00e0aa" fill-opacity="0.6"/>
<circle cx="570.5" cy="172.6" r="3.3" fill="#00e0aa" fill-opacity="0.6"/>
<circle cx="570.9" cy="174.6" r="3.3" fill="#00e0aa" fill-opacity="0.6"/>
<circle cx="576.8" cy="169.4" r="3.3" fill="#00e0aa" fill-opacity="0.6"/>
<circle cx="591.7" cy="169.1" r="3.3" fill="#00e0aa" fill-opacity="0.6"/>
<circle cx="585.4" cy="173.9" r="3.3" fill="#00e0aa" fill-opacity="0.6"/>
<circle cx="576.8" cy="177.1" r="3.3" fill="#00e0aa" fill-opacity="0.6"/>
<circle cx="568.1" cy="178.1" r="3.3" fill="#00e0aa" fill-opacity="0.6"/>
<circle cx="566.0" cy="183.0" r="3.3" fill="#00e0aa" fill-opacity="0.6"/>
<circle cx="578.1" cy="185.7" r="3.3" fill="#00e0aa" fill-opacity="0.6"/>
<circle cx="584.0" cy="183.7" r="3.3" fill="#00e0aa" fill-opacity="0.6"/>
<circle cx="559.1" cy="189.2" r="3.3" fill="#00e0aa" fill-opacity="0.6"/>
<circle cx="588.9" cy="190.6" r="3.3" fill="#00e0aa" fill-opacity="0.6"/>
<circle cx="609.0" cy="154.5" r="3.3" fill="#00e0aa" fill-opacity="0.6"/>
<circle cx="603.9" cy="160.1" r="3.3" fill="#00e0aa" fill-opacity="0.6"/>
<circle cx="602.5" cy="163.9" r="3.3" fill="#00e0aa" fill-opacity="0.6"/>
<circle cx="610.1" cy="167.4" r="3.3" fill="#00e0aa" fill-opacity="0.6"/>
<circle cx="490.8" cy="196.8" r="3.3" fill="#00e0aa" fill-opacity="0.6"/>
<circle cx="484.3" cy="206.0" r="3.3" fill="#00e0aa" fill-opacity="0.6"/>
<circle cx="511.9" cy="207.2" r="3.3" fill="#00e0aa" fill-opacity="0.6"/>
<circle cx="507.9" cy="212.9" r="3.3" fill="#00e0aa" fill-opacity="0.6"/>
<circle cx="534.9" cy="196.2" r="3.3" fill="#00e0aa" fill-opacity="0.6"/>
<circle cx="527.6" cy="205.0" r="3.3" fill="#00e0aa" fill-opacity="0.6"/>
<circle cx="540.1" cy="201.0" r="3.3" fill="#00e0aa" fill-opacity="0.6"/>
<circle cx="525.4" cy="211.5" r="3.3" fill="#00e0aa" fill-opacity="0.6"/>
<circle cx="534.9" cy="217.9" r="3.3" fill="#00e0aa" fill-opacity="0.6"/>
<circle cx="548.3" cy="214.8" r="3.3" fill="#00e0aa" fill-opacity="0.6"/>
<circle cx="547.8" cy="223.4" r="3.3" fill="#00e0aa" fill-opacity="0.6"/>
<circle cx="443.5" cy="220.7" r="3.3" fill="#00e0aa" fill-opacity="0.6"/>
<circle cx="445.7" cy="224.3" r="3.3" fill="#00e0aa" fill-opacity="0.6"/>
<circle cx="442.4" cy="228.6" r="3.3" fill="#00e0aa" fill-opacity="0.6"/>
<circle cx="444.8" cy="237.8" r="3.3" fill="#00e0aa" fill-opacity="0.6"/>
<circle cx="443.9" cy="242.2" r="3.3" fill="#00e0aa" fill-opacity="0.6"/>
<circle cx="445.3" cy="248.8" r="3.3" fill="#00e0aa" fill-opacity="0.6"/>
<circle cx="510.6" cy="226.2" r="3.3" fill="#00e0aa" fill-opacity="0.6"/>
<circle cx="510.6" cy="235.4" r="3.3" fill="#00e0aa" fill-opacity="0.6"/>
<circle cx="523.0" cy="235.4" r="3.3" fill="#00e0aa" fill-opacity="0.6"/>
<circle cx="535.8" cy="233.5" r="3.3" fill="#00e0aa" fill-opacity="0.6"/>
<circle cx="539.1" cy="230.8" r="3.3" fill="#00e0aa" fill-opacity="0.6"/>
<circle cx="534.0" cy="247.7" r="3.3" fill="#00e0aa" fill-opacity="0.6"/>
<circle cx="495.9" cy="266.8" r="3.3" fill="#00e0aa" fill-opacity="0.6"/>
<circle cx="518.5" cy="269.6" r="3.3" fill="#00e0aa" fill-opacity="0.6"/>
<circle cx="555.8" cy="198.2" r="3.3" fill="#00e0aa" fill-opacity="0.6"/>
<circle cx="577.2" cy="196.8" r="3.3" fill="#00e0aa" fill-opacity="0.6"/>
<circle cx="580.1" cy="195.4" r="3.3" fill="#00e0aa" fill-opacity="0.6"/>
<circle cx="594.7" cy="198.7" r="3.3" fill="#00e0aa" fill-opacity="0.6"/>
<circle cx="562.6" cy="215.6" r="3.3" fill="#00e0aa" fill-opacity="0.6"/>
<circle cx="576.2" cy="216.8" r="3.3" fill="#00e0aa" fill-opacity="0.6"/>
<circle cx="559.3" cy="223.4" r="3.3" fill="#00e0aa" fill-opacity="0.6"/>
<circle cx="602.8" cy="224.0" r="3.3" fill="#00e0aa" fill-opacity="0.6"/>
<circle cx="644.6" cy="154.8" r="3.3" fill="#00e0aa" fill-opacity="0.6"/>
<circle cx="567.0" cy="105.2" r="3.3" fill="#00e0aa" fill-opacity="0.6"/>
<circle cx="516.7" cy="186.4" r="3.3" fill="#00e0aa" fill-opacity="0.6"/>
<polygon points="442.8,188.5 448.3,186.0 453.9,183.6 459.4,181.1 464.9,178.6 470.5,176.1 476.0,173.6 481.5,171.1 487.1,168.6 492.6,166.0 498.1,163.5 503.7,160.9 509.2,158.3 514.7,155.7 520.3,153.0 525.8,150.4 531.3,147.7 536.9,144.9 542.4,142.2 547.9,139.4 553.5,136.5 559.0,133.7 564.5,130.8 570.0,127.8 575.6,124.8 581.1,121.8 586.6,118.8 592.2,115.7 597.7,112.6 603.2,109.4 608.8,106.3 614.3,103.1 619.8,99.9 625.4,96.7 630.9,93.5 636.4,90.2 642.0,87.0 647.5,83.7 653.0,80.5 658.6,77.2 664.1,73.9 664.1,98.1 658.6,100.6 653.0,103.1 647.5,105.5 642.0,108.0 636.4,110.5 630.9,113.0 625.4,115.6 619.8,118.1 614.3,120.7 608.8,123.3 603.2,125.9 597.7,128.5 592.2,131.1 586.6,133.8 581.1,136.5 575.6,139.3 570.0,142.0 564.5,144.8 559.0,147.7 553.5,150.6 547.9,153.5 542.4,156.4 536.9,159.4 531.3,162.4 525.8,165.5 520.3,168.6 514.7,171.7 509.2,174.8 503.7,178.0 498.1,181.2 492.6,184.4 487.1,187.6 481.5,190.8 476.0,194.1 470.5,197.3 464.9,200.6 459.4,203.9 453.9,207.1 448.3,210.4 442.8,213.7" fill="#463700" fill-opacity="0.4"/>
<line x1="442.80" y1="201.10" x2="664.10" y2="86.00" stroke="#bcd800" stroke-width="2.4" stroke-linecap="butt"/>
<rect x="431.60" y="14.20" width="243.80" height="267.20" fill="none" stroke="#958c88" stroke-width="1.7"/>
<line x1="444.40" y1="282.40" x2="444.40" y2="285.20" stroke="#ddd6d4" stroke-width="1.4" />
<text x="444.40" y="297.00" font-size="13" text-anchor="middle" fill="#f0ece8" font-weight="normal" font-style="normal" >0</text>
<line x1="512.54" y1="282.40" x2="512.54" y2="285.20" stroke="#ddd6d4" stroke-width="1.4" />
<text x="512.54" y="297.00" font-size="13" text-anchor="middle" fill="#f0ece8" font-weight="normal" font-style="normal" >2</text>
<line x1="580.68" y1="282.40" x2="580.68" y2="285.20" stroke="#ddd6d4" stroke-width="1.4" />
<text x="580.68" y="297.00" font-size="13" text-anchor="middle" fill="#f0ece8" font-weight="normal" font-style="normal" >4</text>
<line x1="648.82" y1="282.40" x2="648.82" y2="285.20" stroke="#ddd6d4" stroke-width="1.4" />
<text x="648.82" y="297.00" font-size="13" text-anchor="middle" fill="#f0ece8" font-weight="normal" font-style="normal" >6</text>
<line x1="427.80" y1="211.80" x2="430.60" y2="211.80" stroke="#ddd6d4" stroke-width="1.4" />
<text x="425.20" y="216.40" font-size="13" text-anchor="end" fill="#f0ece8" font-weight="normal" font-style="normal" >−1000</text>
<line x1="427.80" y1="138.00" x2="430.60" y2="138.00" stroke="#ddd6d4" stroke-width="1.4" />
<text x="425.20" y="142.60" font-size="13" text-anchor="end" fill="#f0ece8" font-weight="normal" font-style="normal" >0</text>
<line x1="427.80" y1="64.20" x2="430.60" y2="64.20" stroke="#ddd6d4" stroke-width="1.4" />
<text x="425.20" y="68.80" font-size="13" text-anchor="end" fill="#f0ece8" font-weight="normal" font-style="normal" >1000</text>
<g transform="translate(553.50,313.60) scale(1,1.03)"><text x="0" y="0" font-size="15.3" text-anchor="middle" fill="#f0ece8" font-weight="normal">Risk score</text></g>
<text x="0" y="0" font-size="15.3" text-anchor="middle" fill="#f0ece8" transform="translate(382.60,147.80) rotate(-90) scale(1,1.03)">Stromal score</text>
<g transform="translate(443.30,32.8) scale(1,1.03)"><text x="0" y="0" font-size="15" fill="#f0ece8" font-style="italic">c</text></g><g transform="translate(452.00,32.8) scale(1,1.03)"><text x="0" y="0" font-size="15" fill="#f0ece8" font-style="italic">o</text></g><g transform="translate(461.30,32.8) scale(1,1.03)"><text x="0" y="0" font-size="15" fill="#f0ece8" font-style="italic">r</text></g><g transform="translate(469.90,32.8) scale(1,1.03)"><text x="0" y="0" font-size="15" fill="#f0ece8">=</text></g><g transform="translate(482.70,32.8) scale(1,1.03)"><text x="0" y="0" font-size="15" fill="#f0ece8">0.58,</text></g><g transform="translate(521.90,32.8) scale(1,1.03)"><text x="0" y="0" font-size="15" fill="#f0ece8" font-style="italic">p</text></g><g transform="translate(533.90,32.8) scale(1,1.03)"><text x="0" y="0" font-size="15" fill="#f0ece8">&lt;</text></g><g transform="translate(546.30,32.8) scale(1,1.03)"><text x="0" y="0" font-size="15" fill="#f0ece8">2.2e−16</text></g>
<polyline points="79.20,345.80 80.50,345.80 80.81,345.80 80.81,347.04 81.12,347.04 81.12,348.29 81.43,348.29 81.43,349.53 81.74,349.53 81.74,350.78 82.06,350.78 82.06,352.02 82.37,352.02 82.37,353.27 82.68,353.27 82.68,354.51 82.99,354.51 82.99,355.76 83.30,355.76 83.30,357.00 83.61,357.00 83.61,358.15 83.92,358.15 83.92,359.30 84.22,359.30 84.22,360.45 84.53,360.45 84.53,361.60 84.84,361.60 84.84,362.75 85.15,362.75 85.15,363.90 85.46,363.90 85.46,365.05 85.77,365.05 85.77,366.20 86.08,366.20 86.08,367.35 86.38,367.35 86.38,368.50 86.69,368.50 86.69,369.65 87.00,369.65 87.00,370.80 87.40,370.80 87.40,371.96 87.80,371.96 87.80,373.12 88.20,373.12 88.20,374.29 88.60,374.29 88.60,375.45 89.00,375.45 89.00,376.61 89.40,376.61 89.40,377.78 89.80,377.78 89.80,378.94 90.20,378.94 90.20,380.10 90.72,380.10 90.72,381.28 91.24,381.28 91.24,382.46 91.76,382.46 91.76,383.64 92.28,383.64 92.28,384.82 92.80,384.82 92.80,386.00 93.25,386.00 93.25,387.23 93.70,387.23 93.70,388.47 94.15,388.47 94.15,389.70 94.60,389.70 94.60,390.93 95.05,390.93 95.05,392.17 95.50,392.17 95.50,393.40 95.91,393.40 95.91,394.53 96.32,394.53 96.32,395.67 96.73,395.67 96.73,396.80 97.14,396.80 97.14,397.93 97.56,397.93 97.56,399.07 97.97,399.07 97.97,400.20 98.38,400.20 98.38,401.33 98.79,401.33 98.79,402.47 99.20,402.47 99.20,403.60 99.67,403.60 99.67,404.83 100.13,404.83 100.13,406.07 100.60,406.07 100.60,407.30 101.07,407.30 101.07,408.53 101.53,408.53 101.53,409.77 102.00,409.77 102.00,411.00 102.40,411.00 102.40,412.19 102.80,412.19 102.80,413.37 103.20,413.37 103.20,414.56 103.60,414.56 103.60,415.74 104.00,415.74 104.00,416.93 104.40,416.93 104.40,418.11 104.80,418.11 104.80,419.30 105.33,419.30 105.33,420.49 105.86,420.49 105.86,421.67 106.39,421.67 106.39,422.86 106.91,422.86 106.91,424.04 107.44,424.04 107.44,425.23 107.97,425.23 107.97,426.41 108.50,426.41 108.50,427.60 109.10,427.60 109.10,428.83 109.70,428.83 109.70,430.05 110.30,430.05 110.30,431.27 110.90,431.27 110.90,432.50 111.08,432.50 111.08,433.80 111.26,433.80 111.26,435.10 111.44,435.10 111.44,436.40 111.62,436.40 111.62,437.70 111.80,437.70 111.80,439.00 112.28,439.00 112.28,440.15 112.75,440.15 112.75,441.30 113.22,441.30 113.22,442.45 113.70,442.45 113.70,443.60 114.63,443.60 114.63,444.67 115.57,444.67 115.57,445.73 116.50,445.73 116.50,446.80 118.35,446.80 118.35,447.95 120.20,447.95 120.20,449.10 124.80,449.10 124.80,450.10 126.65,450.10 126.65,451.45 128.50,451.45 128.50,452.80 130.35,452.80 130.35,454.20 132.20,454.20 132.20,455.60 133.73,455.60 133.73,456.83 135.27,456.83 135.27,458.07 136.80,458.07 136.80,459.30 138.20,459.30 138.20,460.70 139.60,460.70 139.60,462.10 140.50,462.10 140.50,463.33 141.40,463.33 141.40,464.57 142.30,464.57 142.30,465.80 143.70,465.80 143.70,467.20 145.10,467.20 145.10,468.60 155.30,468.60 155.53,468.60 155.53,469.85 155.75,469.85 155.75,471.10 155.97,471.10 155.97,472.35 156.20,472.35 156.20,473.60 166.20,473.60 166.20,474.20 169.20,474.20 169.20,475.30 172.30,475.30 172.30,476.80 175.40,476.80 175.40,478.30 178.50,478.30 178.50,479.90 179.90,479.90 179.90,490.10 305.80,490.10" fill="none" stroke="#3ddc97" stroke-width="2.3" stroke-linejoin="miter" stroke-linecap="butt"/>
<polyline points="79.20,345.80 81.80,345.80 81.80,350.80 83.00,350.80 83.00,355.90 87.00,355.90 87.00,360.50 93.90,360.50 93.90,365.30 103.20,365.30 103.20,375.50 114.90,375.50 114.90,381.20 121.30,381.20 121.30,387.30 127.90,387.30 127.90,395.10 130.70,395.10 130.70,402.70 134.80,402.70 134.80,416.50 139.00,416.50 139.00,424.10 179.30,424.10 179.30,439.00 182.30,439.00 182.30,452.90 196.20,452.90 196.20,471.70 239.50,471.70 239.50,489.30 282.20,489.30" fill="none" stroke="#d0662a" stroke-width="2.3" stroke-linejoin="miter" stroke-linecap="butt"/>
<line x1="76.90" y1="344.40" x2="84.10" y2="344.40" stroke="#3ddc97" stroke-width="1.2" />
<line x1="80.50" y1="340.90" x2="80.50" y2="347.90" stroke="#3ddc97" stroke-width="1.2" />
<line x1="77.52" y1="345.64" x2="84.72" y2="345.64" stroke="#3ddc97" stroke-width="1.2" />
<line x1="81.12" y1="342.14" x2="81.12" y2="349.14" stroke="#3ddc97" stroke-width="1.2" />
<line x1="80.01" y1="356.10" x2="87.21" y2="356.10" stroke="#3ddc97" stroke-width="1.2" />
<line x1="83.61" y1="352.60" x2="83.61" y2="359.60" stroke="#3ddc97" stroke-width="1.2" />
<line x1="84.60" y1="372.89" x2="91.80" y2="372.89" stroke="#3ddc97" stroke-width="1.2" />
<line x1="88.20" y1="369.39" x2="88.20" y2="376.39" stroke="#3ddc97" stroke-width="1.2" />
<line x1="86.60" y1="377.80" x2="93.80" y2="377.80" stroke="#3ddc97" stroke-width="1.2" />
<line x1="90.20" y1="374.30" x2="90.20" y2="381.30" stroke="#3ddc97" stroke-width="1.2" />
<line x1="87.12" y1="378.70" x2="94.32" y2="378.70" stroke="#3ddc97" stroke-width="1.2" />
<line x1="90.72" y1="375.20" x2="90.72" y2="382.20" stroke="#3ddc97" stroke-width="1.2" />
<line x1="89.40" y1="384.60" x2="96.60" y2="384.60" stroke="#3ddc97" stroke-width="1.2" />
<line x1="93.00" y1="381.10" x2="93.00" y2="388.10" stroke="#3ddc97" stroke-width="1.2" />
<line x1="90.10" y1="385.83" x2="97.30" y2="385.83" stroke="#3ddc97" stroke-width="1.2" />
<line x1="93.70" y1="382.33" x2="93.70" y2="389.33" stroke="#3ddc97" stroke-width="1.2" />
<line x1="91.50" y1="390.77" x2="98.70" y2="390.77" stroke="#3ddc97" stroke-width="1.2" />
<line x1="95.10" y1="387.27" x2="95.10" y2="394.27" stroke="#3ddc97" stroke-width="1.2" />
<line x1="92.31" y1="392.00" x2="99.51" y2="392.00" stroke="#3ddc97" stroke-width="1.2" />
<line x1="95.91" y1="388.50" x2="95.91" y2="395.50" stroke="#3ddc97" stroke-width="1.2" />
<line x1="93.54" y1="395.70" x2="100.74" y2="395.70" stroke="#3ddc97" stroke-width="1.2" />
<line x1="97.14" y1="392.20" x2="97.14" y2="399.20" stroke="#3ddc97" stroke-width="1.2" />
<line x1="96.07" y1="403.43" x2="103.27" y2="403.43" stroke="#3ddc97" stroke-width="1.2" />
<line x1="99.67" y1="399.93" x2="99.67" y2="406.93" stroke="#3ddc97" stroke-width="1.2" />
<line x1="97.47" y1="405.90" x2="104.67" y2="405.90" stroke="#3ddc97" stroke-width="1.2" />
<line x1="101.07" y1="402.40" x2="101.07" y2="409.40" stroke="#3ddc97" stroke-width="1.2" />
<line x1="100.00" y1="414.34" x2="107.20" y2="414.34" stroke="#3ddc97" stroke-width="1.2" />
<line x1="103.60" y1="410.84" x2="103.60" y2="417.84" stroke="#3ddc97" stroke-width="1.2" />
<line x1="103.84" y1="423.83" x2="111.04" y2="423.83" stroke="#3ddc97" stroke-width="1.2" />
<line x1="107.44" y1="420.33" x2="107.44" y2="427.33" stroke="#3ddc97" stroke-width="1.2" />
<line x1="105.50" y1="427.43" x2="112.70" y2="427.43" stroke="#3ddc97" stroke-width="1.2" />
<line x1="109.10" y1="423.93" x2="109.10" y2="430.93" stroke="#3ddc97" stroke-width="1.2" />
<line x1="107.30" y1="429.90" x2="114.50" y2="429.90" stroke="#3ddc97" stroke-width="1.2" />
<line x1="110.90" y1="426.40" x2="110.90" y2="433.40" stroke="#3ddc97" stroke-width="1.2" />
<line x1="108.02" y1="435.50" x2="115.22" y2="435.50" stroke="#3ddc97" stroke-width="1.2" />
<line x1="111.62" y1="432.00" x2="111.62" y2="439.00" stroke="#3ddc97" stroke-width="1.2" />
<line x1="111.03" y1="442.20" x2="118.23" y2="442.20" stroke="#3ddc97" stroke-width="1.2" />
<line x1="114.63" y1="438.70" x2="114.63" y2="445.70" stroke="#3ddc97" stroke-width="1.2" />
<line x1="111.97" y1="443.27" x2="119.17" y2="443.27" stroke="#3ddc97" stroke-width="1.2" />
<line x1="115.57" y1="439.77" x2="115.57" y2="446.77" stroke="#3ddc97" stroke-width="1.2" />
<line x1="116.60" y1="446.55" x2="123.80" y2="446.55" stroke="#3ddc97" stroke-width="1.2" />
<line x1="120.20" y1="443.05" x2="120.20" y2="450.05" stroke="#3ddc97" stroke-width="1.2" />
<line x1="121.20" y1="447.70" x2="128.40" y2="447.70" stroke="#3ddc97" stroke-width="1.2" />
<line x1="124.80" y1="444.20" x2="124.80" y2="451.20" stroke="#3ddc97" stroke-width="1.2" />
<line x1="123.05" y1="448.70" x2="130.25" y2="448.70" stroke="#3ddc97" stroke-width="1.2" />
<line x1="126.65" y1="445.20" x2="126.65" y2="452.20" stroke="#3ddc97" stroke-width="1.2" />
<line x1="128.60" y1="452.80" x2="135.80" y2="452.80" stroke="#3ddc97" stroke-width="1.2" />
<line x1="132.20" y1="449.30" x2="132.20" y2="456.30" stroke="#3ddc97" stroke-width="1.2" />
<line x1="131.67" y1="455.43" x2="138.87" y2="455.43" stroke="#3ddc97" stroke-width="1.2" />
<line x1="135.27" y1="451.93" x2="135.27" y2="458.93" stroke="#3ddc97" stroke-width="1.2" />
<line x1="133.20" y1="457.00" x2="140.40" y2="457.00" stroke="#3ddc97" stroke-width="1.2" />
<line x1="136.80" y1="453.50" x2="136.80" y2="460.50" stroke="#3ddc97" stroke-width="1.2" />
<line x1="147.10" y1="467.20" x2="154.30" y2="467.20" stroke="#3ddc97" stroke-width="1.2" />
<line x1="150.70" y1="463.70" x2="150.70" y2="470.70" stroke="#3ddc97" stroke-width="1.2" />
<line x1="148.90" y1="467.20" x2="156.10" y2="467.20" stroke="#3ddc97" stroke-width="1.2" />
<line x1="152.50" y1="463.70" x2="152.50" y2="470.70" stroke="#3ddc97" stroke-width="1.2" />
<line x1="161.90" y1="472.20" x2="169.10" y2="472.20" stroke="#3ddc97" stroke-width="1.2" />
<line x1="165.50" y1="468.70" x2="165.50" y2="475.70" stroke="#3ddc97" stroke-width="1.2" />
<line x1="164.20" y1="472.80" x2="171.40" y2="472.80" stroke="#3ddc97" stroke-width="1.2" />
<line x1="167.80" y1="469.30" x2="167.80" y2="476.30" stroke="#3ddc97" stroke-width="1.2" />
<line x1="177.50" y1="488.70" x2="184.70" y2="488.70" stroke="#3ddc97" stroke-width="1.2" />
<line x1="181.10" y1="485.20" x2="181.10" y2="492.20" stroke="#3ddc97" stroke-width="1.2" />
<line x1="183.90" y1="488.70" x2="191.10" y2="488.70" stroke="#3ddc97" stroke-width="1.2" />
<line x1="187.50" y1="485.20" x2="187.50" y2="492.20" stroke="#3ddc97" stroke-width="1.2" />
<line x1="199.10" y1="488.70" x2="206.30" y2="488.70" stroke="#3ddc97" stroke-width="1.2" />
<line x1="202.70" y1="485.20" x2="202.70" y2="492.20" stroke="#3ddc97" stroke-width="1.2" />
<line x1="200.50" y1="488.70" x2="207.70" y2="488.70" stroke="#3ddc97" stroke-width="1.2" />
<line x1="204.10" y1="485.20" x2="204.10" y2="492.20" stroke="#3ddc97" stroke-width="1.2" />
<line x1="207.90" y1="488.70" x2="215.10" y2="488.70" stroke="#3ddc97" stroke-width="1.2" />
<line x1="211.50" y1="485.20" x2="211.50" y2="492.20" stroke="#3ddc97" stroke-width="1.2" />
<line x1="210.80" y1="488.70" x2="218.00" y2="488.70" stroke="#3ddc97" stroke-width="1.2" />
<line x1="214.40" y1="485.20" x2="214.40" y2="492.20" stroke="#3ddc97" stroke-width="1.2" />
<line x1="215.20" y1="488.70" x2="222.40" y2="488.70" stroke="#3ddc97" stroke-width="1.2" />
<line x1="218.80" y1="485.20" x2="218.80" y2="492.20" stroke="#3ddc97" stroke-width="1.2" />
<line x1="241.00" y1="488.70" x2="248.20" y2="488.70" stroke="#3ddc97" stroke-width="1.2" />
<line x1="244.60" y1="485.20" x2="244.60" y2="492.20" stroke="#3ddc97" stroke-width="1.2" />
<line x1="256.90" y1="488.70" x2="264.10" y2="488.70" stroke="#3ddc97" stroke-width="1.2" />
<line x1="260.50" y1="485.20" x2="260.50" y2="492.20" stroke="#3ddc97" stroke-width="1.2" />
<line x1="302.20" y1="488.70" x2="309.40" y2="488.70" stroke="#3ddc97" stroke-width="1.2" />
<line x1="305.80" y1="485.20" x2="305.80" y2="492.20" stroke="#3ddc97" stroke-width="1.2" />
<line x1="103.30" y1="374.10" x2="110.50" y2="374.10" stroke="#d0662a" stroke-width="1.2" />
<line x1="106.90" y1="370.60" x2="106.90" y2="377.60" stroke="#d0662a" stroke-width="1.2" />
<line x1="109.30" y1="374.10" x2="116.50" y2="374.10" stroke="#d0662a" stroke-width="1.2" />
<line x1="112.90" y1="370.60" x2="112.90" y2="377.60" stroke="#d0662a" stroke-width="1.2" />
<line x1="114.80" y1="379.80" x2="122.00" y2="379.80" stroke="#d0662a" stroke-width="1.2" />
<line x1="118.40" y1="376.30" x2="118.40" y2="383.30" stroke="#d0662a" stroke-width="1.2" />
<line x1="119.40" y1="385.90" x2="126.60" y2="385.90" stroke="#d0662a" stroke-width="1.2" />
<line x1="123.00" y1="382.40" x2="123.00" y2="389.40" stroke="#d0662a" stroke-width="1.2" />
<line x1="123.40" y1="385.90" x2="130.60" y2="385.90" stroke="#d0662a" stroke-width="1.2" />
<line x1="127.00" y1="382.40" x2="127.00" y2="389.40" stroke="#d0662a" stroke-width="1.2" />
<line x1="131.20" y1="415.10" x2="138.40" y2="415.10" stroke="#d0662a" stroke-width="1.2" />
<line x1="134.80" y1="411.60" x2="134.80" y2="418.60" stroke="#d0662a" stroke-width="1.2" />
<line x1="139.80" y1="422.70" x2="147.00" y2="422.70" stroke="#d0662a" stroke-width="1.2" />
<line x1="143.40" y1="419.20" x2="143.40" y2="426.20" stroke="#d0662a" stroke-width="1.2" />
<line x1="142.40" y1="422.70" x2="149.60" y2="422.70" stroke="#d0662a" stroke-width="1.2" />
<line x1="146.00" y1="419.20" x2="146.00" y2="426.20" stroke="#d0662a" stroke-width="1.2" />
<line x1="153.50" y1="422.70" x2="160.70" y2="422.70" stroke="#d0662a" stroke-width="1.2" />
<line x1="157.10" y1="419.20" x2="157.10" y2="426.20" stroke="#d0662a" stroke-width="1.2" />
<line x1="165.30" y1="422.70" x2="172.50" y2="422.70" stroke="#d0662a" stroke-width="1.2" />
<line x1="168.90" y1="419.20" x2="168.90" y2="426.20" stroke="#d0662a" stroke-width="1.2" />
<line x1="172.60" y1="422.70" x2="179.80" y2="422.70" stroke="#d0662a" stroke-width="1.2" />
<line x1="176.20" y1="419.20" x2="176.20" y2="426.20" stroke="#d0662a" stroke-width="1.2" />
<line x1="178.70" y1="451.50" x2="185.90" y2="451.50" stroke="#d0662a" stroke-width="1.2" />
<line x1="182.30" y1="448.00" x2="182.30" y2="455.00" stroke="#d0662a" stroke-width="1.2" />
<line x1="242.20" y1="487.90" x2="249.40" y2="487.90" stroke="#d0662a" stroke-width="1.2" />
<line x1="245.80" y1="484.40" x2="245.80" y2="491.40" stroke="#d0662a" stroke-width="1.2" />
<line x1="278.40" y1="487.90" x2="285.60" y2="487.90" stroke="#d0662a" stroke-width="1.2" />
<line x1="282.00" y1="484.40" x2="282.00" y2="491.40" stroke="#d0662a" stroke-width="1.2" />
<line x1="67.10" y1="337.00" x2="67.10" y2="534.10" stroke="#bcacaa" stroke-width="1.5" />
<line x1="66.35" y1="533.40" x2="329.50" y2="533.40" stroke="#bcacaa" stroke-width="1.5" />
<line x1="63.90" y1="524.50" x2="67.10" y2="524.50" stroke="#bcacaa" stroke-width="1.2" />
<text x="61.60" y="528.50" font-size="11.2" text-anchor="end" fill="#f0ece8" font-weight="normal" font-style="normal" >0</text>
<line x1="63.90" y1="479.70" x2="67.10" y2="479.70" stroke="#bcacaa" stroke-width="1.2" />
<text x="61.60" y="483.70" font-size="11.2" text-anchor="end" fill="#f0ece8" font-weight="normal" font-style="normal" >25</text>
<line x1="63.90" y1="434.90" x2="67.10" y2="434.90" stroke="#bcacaa" stroke-width="1.2" />
<text x="61.60" y="438.90" font-size="11.2" text-anchor="end" fill="#f0ece8" font-weight="normal" font-style="normal" >50</text>
<line x1="63.90" y1="390.10" x2="67.10" y2="390.10" stroke="#bcacaa" stroke-width="1.2" />
<text x="61.60" y="394.10" font-size="11.2" text-anchor="end" fill="#f0ece8" font-weight="normal" font-style="normal" >75</text>
<line x1="63.90" y1="345.30" x2="67.10" y2="345.30" stroke="#bcacaa" stroke-width="1.2" />
<text x="61.60" y="349.30" font-size="11.2" text-anchor="end" fill="#f0ece8" font-weight="normal" font-style="normal" >100</text>
<line x1="79.20" y1="533.40" x2="79.20" y2="536.60" stroke="#bcacaa" stroke-width="1.2" />
<text x="79.20" y="547.50" font-size="11.2" text-anchor="middle" fill="#f0ece8" font-weight="normal" font-style="normal" >0</text>
<line x1="111.00" y1="533.40" x2="111.00" y2="536.60" stroke="#bcacaa" stroke-width="1.2" />
<text x="111.00" y="547.50" font-size="11.2" text-anchor="middle" fill="#f0ece8" font-weight="normal" font-style="normal" >2</text>
<line x1="142.80" y1="533.40" x2="142.80" y2="536.60" stroke="#bcacaa" stroke-width="1.2" />
<text x="142.80" y="547.50" font-size="11.2" text-anchor="middle" fill="#f0ece8" font-weight="normal" font-style="normal" >4</text>
<line x1="174.60" y1="533.40" x2="174.60" y2="536.60" stroke="#bcacaa" stroke-width="1.2" />
<text x="174.60" y="547.50" font-size="11.2" text-anchor="middle" fill="#f0ece8" font-weight="normal" font-style="normal" >6</text>
<line x1="206.40" y1="533.40" x2="206.40" y2="536.60" stroke="#bcacaa" stroke-width="1.2" />
<text x="206.40" y="547.50" font-size="11.2" text-anchor="middle" fill="#f0ece8" font-weight="normal" font-style="normal" >8</text>
<line x1="238.20" y1="533.40" x2="238.20" y2="536.60" stroke="#bcacaa" stroke-width="1.2" />
<text x="238.20" y="547.50" font-size="11.2" text-anchor="middle" fill="#f0ece8" font-weight="normal" font-style="normal" >10</text>
<line x1="270.00" y1="533.40" x2="270.00" y2="536.60" stroke="#bcacaa" stroke-width="1.2" />
<text x="270.00" y="547.50" font-size="11.2" text-anchor="middle" fill="#f0ece8" font-weight="normal" font-style="normal" >12</text>
<line x1="301.80" y1="533.40" x2="301.80" y2="536.60" stroke="#bcacaa" stroke-width="1.2" />
<text x="301.80" y="547.50" font-size="11.2" text-anchor="middle" fill="#f0ece8" font-weight="normal" font-style="normal" >14</text>
<g transform="translate(198.50,564.30) scale(1,1.03)"><text x="0" y="0" font-size="14.8" text-anchor="middle" fill="#f0ece8" font-weight="normal">Overall Survival (years)</text></g>
<text x="0" y="0" font-size="14.8" text-anchor="middle" fill="#f0ece8" transform="translate(28.40,435.0) rotate(-90) scale(1,1.03)">Survival probability (%)</text>
<text x="79.30" y="506.00" font-size="11.6" text-anchor="start" fill="#f0ece8" font-weight="normal" font-style="normal" >HR = 2.071</text>
<text x="79.30" y="524.20" font-size="11.6" text-anchor="start" fill="#f0ece8" font-weight="normal" font-style="normal" >P = 0.004</text>
<text x="252.60" y="350.20" font-size="11.8" text-anchor="start" fill="#f0ece8" font-weight="normal" font-style="normal" >Immune score</text>
<line x1="253.90" y1="365.50" x2="267.90" y2="365.50" stroke="#3ddc97" stroke-width="2" />
<line x1="257.40" y1="364.10" x2="264.40" y2="364.10" stroke="#3ddc97" stroke-width="1.2" />
<line x1="260.90" y1="360.60" x2="260.90" y2="367.60" stroke="#3ddc97" stroke-width="1.2" />
<text x="275.60" y="369.80" font-size="11.8" text-anchor="start" fill="#f0ece8" font-weight="normal" font-style="normal" >High</text>
<line x1="253.90" y1="382.90" x2="267.90" y2="382.90" stroke="#d0662a" stroke-width="2" />
<line x1="257.40" y1="381.50" x2="264.40" y2="381.50" stroke="#d0662a" stroke-width="1.2" />
<line x1="260.90" y1="378.00" x2="260.90" y2="385.00" stroke="#d0662a" stroke-width="1.2" />
<text x="275.60" y="387.20" font-size="11.8" text-anchor="start" fill="#f0ece8" font-weight="normal" font-style="normal" >Low</text>
<text x="67.50" y="587.80" font-size="11.8" text-anchor="start" fill="#f0ece8" font-weight="bold" font-style="normal" >Number</text>
<line x1="67.00" y1="596.00" x2="67.00" y2="645.60" stroke="#bcacaa" stroke-width="1.5" />
<line x1="66.25" y1="644.90" x2="329.50" y2="644.90" stroke="#bcacaa" stroke-width="1.5" />
<line x1="79.20" y1="644.90" x2="79.20" y2="648.20" stroke="#bcacaa" stroke-width="1.2" />
<line x1="111.00" y1="644.90" x2="111.00" y2="648.20" stroke="#bcacaa" stroke-width="1.2" />
<line x1="142.80" y1="644.90" x2="142.80" y2="648.20" stroke="#bcacaa" stroke-width="1.2" />
<line x1="174.60" y1="644.90" x2="174.60" y2="648.20" stroke="#bcacaa" stroke-width="1.2" />
<line x1="206.40" y1="644.90" x2="206.40" y2="648.20" stroke="#bcacaa" stroke-width="1.2" />
<line x1="238.20" y1="644.90" x2="238.20" y2="648.20" stroke="#bcacaa" stroke-width="1.2" />
<line x1="270.00" y1="644.90" x2="270.00" y2="648.20" stroke="#bcacaa" stroke-width="1.2" />
<line x1="301.80" y1="644.90" x2="301.80" y2="648.20" stroke="#bcacaa" stroke-width="1.2" />
<line x1="63.90" y1="609.70" x2="67.10" y2="609.70" stroke="#bcacaa" stroke-width="1.2" />
<g transform="translate(61.20,612.70) scale(1,1.13)"><text x="0" y="0" font-size="11.6" text-anchor="end" fill="#3ddc97" font-weight="bold">High</text></g>
<text x="79.20" y="613.90" font-size="11.6" text-anchor="middle" fill="#f0ece8" font-weight="normal" font-style="normal" >180</text>
<text x="111.00" y="613.90" font-size="11.6" text-anchor="middle" fill="#f0ece8" font-weight="normal" font-style="normal" >75</text>
<text x="142.80" y="613.90" font-size="11.6" text-anchor="middle" fill="#f0ece8" font-weight="normal" font-style="normal" >31</text>
<text x="174.60" y="613.90" font-size="11.6" text-anchor="middle" fill="#f0ece8" font-weight="normal" font-style="normal" >15</text>
<text x="206.40" y="613.90" font-size="11.6" text-anchor="middle" fill="#f0ece8" font-weight="normal" font-style="normal" >6</text>
<text x="238.20" y="613.90" font-size="11.6" text-anchor="middle" fill="#f0ece8" font-weight="normal" font-style="normal" >3</text>
<text x="270.00" y="613.90" font-size="11.6" text-anchor="middle" fill="#f0ece8" font-weight="normal" font-style="normal" >1</text>
<text x="301.80" y="613.90" font-size="11.6" text-anchor="middle" fill="#f0ece8" font-weight="normal" font-style="normal" >1</text>
<line x1="63.90" y1="631.50" x2="67.10" y2="631.50" stroke="#bcacaa" stroke-width="1.2" />
<g transform="translate(61.20,634.50) scale(1,1.13)"><text x="0" y="0" font-size="11.6" text-anchor="end" fill="#d0662a" font-weight="bold">Low</text></g>
<text x="79.20" y="635.70" font-size="11.6" text-anchor="middle" fill="#f0ece8" font-weight="normal" font-style="normal" >36</text>
<text x="111.00" y="635.70" font-size="11.6" text-anchor="middle" fill="#f0ece8" font-weight="normal" font-style="normal" >26</text>
<text x="142.80" y="635.70" font-size="11.6" text-anchor="middle" fill="#f0ece8" font-weight="normal" font-style="normal" >13</text>
<text x="174.60" y="635.70" font-size="11.6" text-anchor="middle" fill="#f0ece8" font-weight="normal" font-style="normal" >9</text>
<text x="206.40" y="635.70" font-size="11.6" text-anchor="middle" fill="#f0ece8" font-weight="normal" font-style="normal" >3</text>
<text x="238.20" y="635.70" font-size="11.6" text-anchor="middle" fill="#f0ece8" font-weight="normal" font-style="normal" >3</text>
<text x="270.00" y="635.70" font-size="11.6" text-anchor="middle" fill="#f0ece8" font-weight="normal" font-style="normal" >1</text>
<text x="301.80" y="635.70" font-size="11.6" text-anchor="middle" fill="#f0ece8" font-weight="normal" font-style="normal" >0</text>
<polyline points="433.50,345.30 434.60,345.30 434.60,345.40 435.07,345.40 435.07,346.63 435.53,346.63 435.53,347.87 436.00,347.87 436.00,349.10 436.47,349.10 436.47,350.33 436.93,350.33 436.93,351.57 437.40,351.57 437.40,352.80 437.87,352.80 437.87,354.03 438.33,354.03 438.33,355.27 438.80,355.27 438.80,356.50 439.12,356.50 439.12,357.70 439.44,357.70 439.44,358.90 439.76,358.90 439.76,360.10 440.08,360.10 440.08,361.30 440.40,361.30 440.40,362.50 440.72,362.50 440.72,363.70 441.04,363.70 441.04,364.90 441.36,364.90 441.36,366.10 441.68,366.10 441.68,367.30 442.00,367.30 442.00,368.50 442.35,368.50 442.35,369.65 442.70,369.65 442.70,370.80 443.05,370.80 443.05,371.95 443.40,371.95 443.40,373.10 443.75,373.10 443.75,374.25 444.10,374.25 444.10,375.40 444.45,375.40 444.45,376.55 444.80,376.55 444.80,377.70 445.26,377.70 445.26,378.86 445.73,378.86 445.73,380.02 446.19,380.02 446.19,381.19 446.65,381.19 446.65,382.35 447.11,382.35 447.11,383.51 447.57,383.51 447.57,384.68 448.04,384.68 448.04,385.84 448.50,385.84 448.50,387.00 448.90,387.00 448.90,388.18 449.30,388.18 449.30,389.36 449.70,389.36 449.70,390.54 450.10,390.54 450.10,391.72 450.50,391.72 450.50,392.90 450.91,392.90 450.91,394.03 451.32,394.03 451.32,395.17 451.73,395.17 451.73,396.30 452.14,396.30 452.14,397.43 452.56,397.43 452.56,398.57 452.97,398.57 452.97,399.70 453.38,399.70 453.38,400.83 453.79,400.83 453.79,401.97 454.20,401.97 454.20,403.10 454.60,403.10 454.60,404.29 455.00,404.29 455.00,405.47 455.40,405.47 455.40,406.66 455.80,406.66 455.80,407.84 456.20,407.84 456.20,409.03 456.60,409.03 456.60,410.21 457.00,410.21 457.00,411.40 457.24,411.40 457.24,412.56 457.48,412.56 457.48,413.72 457.71,413.72 457.71,414.89 457.95,414.89 457.95,416.05 458.19,416.05 458.19,417.21 458.42,417.21 458.42,418.38 458.66,418.38 458.66,419.54 458.90,419.54 458.90,420.70 459.38,420.70 459.38,421.97 459.87,421.97 459.87,423.23 460.35,423.23 460.35,424.50 460.83,424.50 460.83,425.77 461.32,425.77 461.32,427.03 461.80,427.03 461.80,428.30 462.70,428.30 462.70,429.37 463.60,429.37 463.60,430.43 464.50,430.43 464.50,431.50 465.07,431.50 465.07,432.82 465.65,432.82 465.65,434.15 466.23,434.15 466.23,435.48 466.80,435.48 466.80,436.80 467.53,436.80 467.53,438.03 468.27,438.03 468.27,439.27 469.00,439.27 469.00,440.50 470.10,440.50 470.10,441.45 471.20,441.45 471.20,442.40 472.42,442.40 472.42,443.48 473.64,443.48 473.64,444.56 474.86,444.56 474.86,445.64 476.08,445.64 476.08,446.72 477.30,446.72 477.30,447.80 478.85,447.80 478.85,448.95 480.40,448.95 480.40,450.10 481.95,450.10 481.95,451.25 483.50,451.25 483.50,452.40 485.05,452.40 485.05,453.55 486.60,453.55 486.60,454.70 488.15,454.70 488.15,455.85 489.70,455.85 489.70,457.00 490.65,457.00 490.65,458.18 491.60,458.18 491.60,459.35 492.55,459.35 492.55,460.52 493.50,460.52 493.50,461.70 493.82,461.70 493.82,462.92 494.14,462.92 494.14,464.14 494.46,464.14 494.46,465.36 494.78,465.36 494.78,466.58 495.10,466.58 495.10,467.80 509.50,467.80 509.50,468.80 509.62,468.80 509.62,469.92 509.73,469.92 509.73,471.03 509.85,471.03 509.85,472.15 509.97,472.15 509.97,473.27 510.08,473.27 510.08,474.38 510.20,474.38 510.20,475.50 519.00,475.50 525.90,475.50 525.90,476.30 527.17,476.30 527.17,477.33 528.43,477.33 528.43,478.37 529.70,478.37 529.70,479.40 531.25,479.40 531.25,480.50 532.80,480.50 532.80,481.60 533.02,481.60 533.02,482.84 533.25,482.84 533.25,484.08 533.48,484.08 533.48,485.31 533.70,485.31 533.70,486.55 533.92,486.55 533.92,487.79 534.15,487.79 534.15,489.02 534.38,489.02 534.38,490.26 534.60,490.26 534.60,491.50 534.95,491.50 534.95,492.60 535.30,492.60 535.30,493.70 614.60,493.70" fill="none" stroke="#3ddc97" stroke-width="2.3" stroke-linejoin="miter" stroke-linecap="butt"/>
<polyline points="433.50,345.30 435.50,345.30 435.50,349.30 436.90,349.30 436.90,353.30 438.20,353.30 438.20,357.20 439.50,357.20 439.50,361.20 440.80,361.20 440.80,365.20 446.00,365.20 446.00,369.30 449.80,369.30 449.80,373.20 457.20,373.20 457.20,377.40 458.60,377.40 458.60,381.80 460.20,381.80 460.20,386.30 468.20,386.30 468.20,396.60 470.00,396.60 470.00,400.90 481.80,400.90 481.80,407.00 485.20,407.00 485.20,412.80 489.80,412.80 489.80,418.00 490.30,418.00 490.30,424.00 497.80,424.00 497.80,430.60 534.00,430.60 534.00,441.00 536.50,441.00 536.50,450.80 550.30,450.80 550.30,463.90 594.10,463.90 594.10,478.90 660.60,478.90" fill="none" stroke="#d0662a" stroke-width="2.3" stroke-linejoin="miter" stroke-linecap="butt"/>
<line x1="431.47" y1="344.90" x2="438.67" y2="344.90" stroke="#3ddc97" stroke-width="1.2" />
<line x1="435.07" y1="341.40" x2="435.07" y2="348.40" stroke="#3ddc97" stroke-width="1.2" />
<line x1="432.40" y1="346.47" x2="439.60" y2="346.47" stroke="#3ddc97" stroke-width="1.2" />
<line x1="436.00" y1="342.97" x2="436.00" y2="349.97" stroke="#3ddc97" stroke-width="1.2" />
<line x1="435.52" y1="355.60" x2="442.72" y2="355.60" stroke="#3ddc97" stroke-width="1.2" />
<line x1="439.12" y1="352.10" x2="439.12" y2="359.10" stroke="#3ddc97" stroke-width="1.2" />
<line x1="438.75" y1="368.25" x2="445.95" y2="368.25" stroke="#3ddc97" stroke-width="1.2" />
<line x1="442.35" y1="364.75" x2="442.35" y2="371.75" stroke="#3ddc97" stroke-width="1.2" />
<line x1="440.15" y1="372.20" x2="447.35" y2="372.20" stroke="#3ddc97" stroke-width="1.2" />
<line x1="443.75" y1="368.70" x2="443.75" y2="375.70" stroke="#3ddc97" stroke-width="1.2" />
<line x1="441.70" y1="377.46" x2="448.90" y2="377.46" stroke="#3ddc97" stroke-width="1.2" />
<line x1="445.30" y1="373.96" x2="445.30" y2="380.96" stroke="#3ddc97" stroke-width="1.2" />
<line x1="444.90" y1="384.60" x2="452.10" y2="384.60" stroke="#3ddc97" stroke-width="1.2" />
<line x1="448.50" y1="381.10" x2="448.50" y2="388.10" stroke="#3ddc97" stroke-width="1.2" />
<line x1="445.70" y1="386.78" x2="452.90" y2="386.78" stroke="#3ddc97" stroke-width="1.2" />
<line x1="449.30" y1="383.28" x2="449.30" y2="390.28" stroke="#3ddc97" stroke-width="1.2" />
<line x1="446.10" y1="388.30" x2="453.30" y2="388.30" stroke="#3ddc97" stroke-width="1.2" />
<line x1="449.70" y1="384.80" x2="449.70" y2="391.80" stroke="#3ddc97" stroke-width="1.2" />
<line x1="446.90" y1="391.10" x2="454.10" y2="391.10" stroke="#3ddc97" stroke-width="1.2" />
<line x1="450.50" y1="387.60" x2="450.50" y2="394.60" stroke="#3ddc97" stroke-width="1.2" />
<line x1="448.96" y1="396.03" x2="456.16" y2="396.03" stroke="#3ddc97" stroke-width="1.2" />
<line x1="452.56" y1="392.53" x2="452.56" y2="399.53" stroke="#3ddc97" stroke-width="1.2" />
<line x1="451.40" y1="402.89" x2="458.60" y2="402.89" stroke="#3ddc97" stroke-width="1.2" />
<line x1="455.00" y1="399.39" x2="455.00" y2="406.39" stroke="#3ddc97" stroke-width="1.2" />
<line x1="452.60" y1="406.60" x2="459.80" y2="406.60" stroke="#3ddc97" stroke-width="1.2" />
<line x1="456.20" y1="403.10" x2="456.20" y2="410.10" stroke="#3ddc97" stroke-width="1.2" />
<line x1="454.11" y1="413.49" x2="461.31" y2="413.49" stroke="#3ddc97" stroke-width="1.2" />
<line x1="457.71" y1="409.99" x2="457.71" y2="416.99" stroke="#3ddc97" stroke-width="1.2" />
<line x1="455.06" y1="416.98" x2="462.26" y2="416.98" stroke="#3ddc97" stroke-width="1.2" />
<line x1="458.66" y1="413.48" x2="458.66" y2="420.48" stroke="#3ddc97" stroke-width="1.2" />
<line x1="457.10" y1="423.10" x2="464.30" y2="423.10" stroke="#3ddc97" stroke-width="1.2" />
<line x1="460.70" y1="419.60" x2="460.70" y2="426.60" stroke="#3ddc97" stroke-width="1.2" />
<line x1="460.00" y1="428.50" x2="467.20" y2="428.50" stroke="#3ddc97" stroke-width="1.2" />
<line x1="463.60" y1="425.00" x2="463.60" y2="432.00" stroke="#3ddc97" stroke-width="1.2" />
<line x1="463.60" y1="435.40" x2="470.80" y2="435.40" stroke="#3ddc97" stroke-width="1.2" />
<line x1="467.20" y1="431.90" x2="467.20" y2="438.90" stroke="#3ddc97" stroke-width="1.2" />
<line x1="467.60" y1="440.10" x2="474.80" y2="440.10" stroke="#3ddc97" stroke-width="1.2" />
<line x1="471.20" y1="436.60" x2="471.20" y2="443.60" stroke="#3ddc97" stroke-width="1.2" />
<line x1="470.04" y1="442.50" x2="477.24" y2="442.50" stroke="#3ddc97" stroke-width="1.2" />
<line x1="473.64" y1="439.00" x2="473.64" y2="446.00" stroke="#3ddc97" stroke-width="1.2" />
<line x1="472.48" y1="444.24" x2="479.68" y2="444.24" stroke="#3ddc97" stroke-width="1.2" />
<line x1="476.08" y1="440.74" x2="476.08" y2="447.74" stroke="#3ddc97" stroke-width="1.2" />
<line x1="475.25" y1="446.40" x2="482.45" y2="446.40" stroke="#3ddc97" stroke-width="1.2" />
<line x1="478.85" y1="442.90" x2="478.85" y2="449.90" stroke="#3ddc97" stroke-width="1.2" />
<line x1="478.35" y1="448.70" x2="485.55" y2="448.70" stroke="#3ddc97" stroke-width="1.2" />
<line x1="481.95" y1="445.20" x2="481.95" y2="452.20" stroke="#3ddc97" stroke-width="1.2" />
<line x1="483.00" y1="452.15" x2="490.20" y2="452.15" stroke="#3ddc97" stroke-width="1.2" />
<line x1="486.60" y1="448.65" x2="486.60" y2="455.65" stroke="#3ddc97" stroke-width="1.2" />
<line x1="485.30" y1="454.45" x2="492.50" y2="454.45" stroke="#3ddc97" stroke-width="1.2" />
<line x1="488.90" y1="450.95" x2="488.90" y2="457.95" stroke="#3ddc97" stroke-width="1.2" />
<line x1="488.00" y1="457.20" x2="495.20" y2="457.20" stroke="#3ddc97" stroke-width="1.2" />
<line x1="491.60" y1="453.70" x2="491.60" y2="460.70" stroke="#3ddc97" stroke-width="1.2" />
<line x1="496.90" y1="466.40" x2="504.10" y2="466.40" stroke="#3ddc97" stroke-width="1.2" />
<line x1="500.50" y1="462.90" x2="500.50" y2="469.90" stroke="#3ddc97" stroke-width="1.2" />
<line x1="501.50" y1="466.40" x2="508.70" y2="466.40" stroke="#3ddc97" stroke-width="1.2" />
<line x1="505.10" y1="462.90" x2="505.10" y2="469.90" stroke="#3ddc97" stroke-width="1.2" />
<line x1="503.80" y1="466.40" x2="511.00" y2="466.40" stroke="#3ddc97" stroke-width="1.2" />
<line x1="507.40" y1="462.90" x2="507.40" y2="469.90" stroke="#3ddc97" stroke-width="1.2" />
<line x1="516.10" y1="474.10" x2="523.30" y2="474.10" stroke="#3ddc97" stroke-width="1.2" />
<line x1="519.70" y1="470.60" x2="519.70" y2="477.60" stroke="#3ddc97" stroke-width="1.2" />
<line x1="518.40" y1="474.10" x2="525.60" y2="474.10" stroke="#3ddc97" stroke-width="1.2" />
<line x1="522.00" y1="470.60" x2="522.00" y2="477.60" stroke="#3ddc97" stroke-width="1.2" />
<line x1="523.10" y1="474.90" x2="530.30" y2="474.90" stroke="#3ddc97" stroke-width="1.2" />
<line x1="526.70" y1="471.40" x2="526.70" y2="478.40" stroke="#3ddc97" stroke-width="1.2" />
<line x1="527.65" y1="479.10" x2="534.85" y2="479.10" stroke="#3ddc97" stroke-width="1.2" />
<line x1="531.25" y1="475.60" x2="531.25" y2="482.60" stroke="#3ddc97" stroke-width="1.2" />
<line x1="531.90" y1="492.30" x2="539.10" y2="492.30" stroke="#3ddc97" stroke-width="1.2" />
<line x1="535.50" y1="488.80" x2="535.50" y2="495.80" stroke="#3ddc97" stroke-width="1.2" />
<line x1="538.00" y1="492.30" x2="545.20" y2="492.30" stroke="#3ddc97" stroke-width="1.2" />
<line x1="541.60" y1="488.80" x2="541.60" y2="495.80" stroke="#3ddc97" stroke-width="1.2" />
<line x1="555.30" y1="492.30" x2="562.50" y2="492.30" stroke="#3ddc97" stroke-width="1.2" />
<line x1="558.90" y1="488.80" x2="558.90" y2="495.80" stroke="#3ddc97" stroke-width="1.2" />
<line x1="562.10" y1="492.30" x2="569.30" y2="492.30" stroke="#3ddc97" stroke-width="1.2" />
<line x1="565.70" y1="488.80" x2="565.70" y2="495.80" stroke="#3ddc97" stroke-width="1.2" />
<line x1="565.20" y1="492.30" x2="572.40" y2="492.30" stroke="#3ddc97" stroke-width="1.2" />
<line x1="568.80" y1="488.80" x2="568.80" y2="495.80" stroke="#3ddc97" stroke-width="1.2" />
<line x1="569.50" y1="492.30" x2="576.70" y2="492.30" stroke="#3ddc97" stroke-width="1.2" />
<line x1="573.10" y1="488.80" x2="573.10" y2="495.80" stroke="#3ddc97" stroke-width="1.2" />
<line x1="594.70" y1="492.30" x2="601.90" y2="492.30" stroke="#3ddc97" stroke-width="1.2" />
<line x1="598.30" y1="488.80" x2="598.30" y2="495.80" stroke="#3ddc97" stroke-width="1.2" />
<line x1="611.00" y1="492.30" x2="618.20" y2="492.30" stroke="#3ddc97" stroke-width="1.2" />
<line x1="614.60" y1="488.80" x2="614.60" y2="495.80" stroke="#3ddc97" stroke-width="1.2" />
<line x1="441.20" y1="363.80" x2="448.40" y2="363.80" stroke="#d0662a" stroke-width="1.2" />
<line x1="444.80" y1="360.30" x2="444.80" y2="367.30" stroke="#d0662a" stroke-width="1.2" />
<line x1="454.40" y1="376.00" x2="461.60" y2="376.00" stroke="#d0662a" stroke-width="1.2" />
<line x1="458.00" y1="372.50" x2="458.00" y2="379.50" stroke="#d0662a" stroke-width="1.2" />
<line x1="457.60" y1="384.90" x2="464.80" y2="384.90" stroke="#d0662a" stroke-width="1.2" />
<line x1="461.20" y1="381.40" x2="461.20" y2="388.40" stroke="#d0662a" stroke-width="1.2" />
<line x1="463.90" y1="384.90" x2="471.10" y2="384.90" stroke="#d0662a" stroke-width="1.2" />
<line x1="467.50" y1="381.40" x2="467.50" y2="388.40" stroke="#d0662a" stroke-width="1.2" />
<line x1="469.10" y1="399.50" x2="476.30" y2="399.50" stroke="#d0662a" stroke-width="1.2" />
<line x1="472.70" y1="396.00" x2="472.70" y2="403.00" stroke="#d0662a" stroke-width="1.2" />
<line x1="474.20" y1="399.50" x2="481.40" y2="399.50" stroke="#d0662a" stroke-width="1.2" />
<line x1="477.80" y1="396.00" x2="477.80" y2="403.00" stroke="#d0662a" stroke-width="1.2" />
<line x1="486.30" y1="416.60" x2="493.50" y2="416.60" stroke="#d0662a" stroke-width="1.2" />
<line x1="489.90" y1="413.10" x2="489.90" y2="420.10" stroke="#d0662a" stroke-width="1.2" />
<line x1="494.20" y1="422.60" x2="501.40" y2="422.60" stroke="#d0662a" stroke-width="1.2" />
<line x1="497.80" y1="419.10" x2="497.80" y2="426.10" stroke="#d0662a" stroke-width="1.2" />
<line x1="503.00" y1="429.20" x2="510.20" y2="429.20" stroke="#d0662a" stroke-width="1.2" />
<line x1="506.60" y1="425.70" x2="506.60" y2="432.70" stroke="#d0662a" stroke-width="1.2" />
<line x1="507.60" y1="429.20" x2="514.80" y2="429.20" stroke="#d0662a" stroke-width="1.2" />
<line x1="511.20" y1="425.70" x2="511.20" y2="432.70" stroke="#d0662a" stroke-width="1.2" />
<line x1="520.70" y1="429.20" x2="527.90" y2="429.20" stroke="#d0662a" stroke-width="1.2" />
<line x1="524.30" y1="425.70" x2="524.30" y2="432.70" stroke="#d0662a" stroke-width="1.2" />
<line x1="526.30" y1="429.20" x2="533.50" y2="429.20" stroke="#d0662a" stroke-width="1.2" />
<line x1="529.90" y1="425.70" x2="529.90" y2="432.70" stroke="#d0662a" stroke-width="1.2" />
<line x1="532.90" y1="449.40" x2="540.10" y2="449.40" stroke="#d0662a" stroke-width="1.2" />
<line x1="536.50" y1="445.90" x2="536.50" y2="452.90" stroke="#d0662a" stroke-width="1.2" />
<line x1="553.70" y1="462.50" x2="560.90" y2="462.50" stroke="#d0662a" stroke-width="1.2" />
<line x1="557.30" y1="459.00" x2="557.30" y2="466.00" stroke="#d0662a" stroke-width="1.2" />
<line x1="596.60" y1="477.50" x2="603.80" y2="477.50" stroke="#d0662a" stroke-width="1.2" />
<line x1="600.20" y1="474.00" x2="600.20" y2="481.00" stroke="#d0662a" stroke-width="1.2" />
<line x1="633.00" y1="477.50" x2="640.20" y2="477.50" stroke="#d0662a" stroke-width="1.2" />
<line x1="636.60" y1="474.00" x2="636.60" y2="481.00" stroke="#d0662a" stroke-width="1.2" />
<line x1="656.70" y1="477.50" x2="663.90" y2="477.50" stroke="#d0662a" stroke-width="1.2" />
<line x1="660.30" y1="474.00" x2="660.30" y2="481.00" stroke="#d0662a" stroke-width="1.2" />
<line x1="421.50" y1="337.00" x2="421.50" y2="534.10" stroke="#bcacaa" stroke-width="1.5" />
<line x1="420.75" y1="533.40" x2="683.90" y2="533.40" stroke="#bcacaa" stroke-width="1.5" />
<line x1="418.30" y1="524.50" x2="421.50" y2="524.50" stroke="#bcacaa" stroke-width="1.2" />
<text x="416.00" y="528.50" font-size="11.2" text-anchor="end" fill="#f0ece8" font-weight="normal" font-style="normal" >0</text>
<line x1="418.30" y1="479.70" x2="421.50" y2="479.70" stroke="#bcacaa" stroke-width="1.2" />
<text x="416.00" y="483.70" font-size="11.2" text-anchor="end" fill="#f0ece8" font-weight="normal" font-style="normal" >25</text>
<line x1="418.30" y1="434.90" x2="421.50" y2="434.90" stroke="#bcacaa" stroke-width="1.2" />
<text x="416.00" y="438.90" font-size="11.2" text-anchor="end" fill="#f0ece8" font-weight="normal" font-style="normal" >50</text>
<line x1="418.30" y1="390.10" x2="421.50" y2="390.10" stroke="#bcacaa" stroke-width="1.2" />
<text x="416.00" y="394.10" font-size="11.2" text-anchor="end" fill="#f0ece8" font-weight="normal" font-style="normal" >75</text>
<line x1="418.30" y1="345.30" x2="421.50" y2="345.30" stroke="#bcacaa" stroke-width="1.2" />
<text x="416.00" y="349.30" font-size="11.2" text-anchor="end" fill="#f0ece8" font-weight="normal" font-style="normal" >100</text>
<line x1="433.60" y1="533.40" x2="433.60" y2="536.60" stroke="#bcacaa" stroke-width="1.2" />
<text x="433.60" y="547.50" font-size="11.2" text-anchor="middle" fill="#f0ece8" font-weight="normal" font-style="normal" >0</text>
<line x1="465.40" y1="533.40" x2="465.40" y2="536.60" stroke="#bcacaa" stroke-width="1.2" />
<text x="465.40" y="547.50" font-size="11.2" text-anchor="middle" fill="#f0ece8" font-weight="normal" font-style="normal" >2</text>
<line x1="497.20" y1="533.40" x2="497.20" y2="536.60" stroke="#bcacaa" stroke-width="1.2" />
<text x="497.20" y="547.50" font-size="11.2" text-anchor="middle" fill="#f0ece8" font-weight="normal" font-style="normal" >4</text>
<line x1="529.00" y1="533.40" x2="529.00" y2="536.60" stroke="#bcacaa" stroke-width="1.2" />
<text x="529.00" y="547.50" font-size="11.2" text-anchor="middle" fill="#f0ece8" font-weight="normal" font-style="normal" >6</text>
<line x1="560.80" y1="533.40" x2="560.80" y2="536.60" stroke="#bcacaa" stroke-width="1.2" />
<text x="560.80" y="547.50" font-size="11.2" text-anchor="middle" fill="#f0ece8" font-weight="normal" font-style="normal" >8</text>
<line x1="592.60" y1="533.40" x2="592.60" y2="536.60" stroke="#bcacaa" stroke-width="1.2" />
<text x="592.60" y="547.50" font-size="11.2" text-anchor="middle" fill="#f0ece8" font-weight="normal" font-style="normal" >10</text>
<line x1="624.40" y1="533.40" x2="624.40" y2="536.60" stroke="#bcacaa" stroke-width="1.2" />
<text x="624.40" y="547.50" font-size="11.2" text-anchor="middle" fill="#f0ece8" font-weight="normal" font-style="normal" >12</text>
<line x1="656.20" y1="533.40" x2="656.20" y2="536.60" stroke="#bcacaa" stroke-width="1.2" />
<text x="656.20" y="547.50" font-size="11.2" text-anchor="middle" fill="#f0ece8" font-weight="normal" font-style="normal" >14</text>
<g transform="translate(552.90,564.30) scale(1,1.03)"><text x="0" y="0" font-size="14.8" text-anchor="middle" fill="#f0ece8" font-weight="normal">Overall Survival (years)</text></g>
<text x="0" y="0" font-size="14.8" text-anchor="middle" fill="#f0ece8" transform="translate(382.80,435.0) rotate(-90) scale(1,1.03)">Survival probability (%)</text>
<text x="433.70" y="506.00" font-size="11.6" text-anchor="start" fill="#f0ece8" font-weight="normal" font-style="normal" >HR = 1.943</text>
<text x="433.70" y="524.20" font-size="11.6" text-anchor="start" fill="#f0ece8" font-weight="normal" font-style="normal" >P = 0.004</text>
<text x="608.20" y="350.20" font-size="11.8" text-anchor="start" fill="#f0ece8" font-weight="normal" font-style="normal" >Stromal score</text>
<line x1="609.50" y1="365.50" x2="623.50" y2="365.50" stroke="#3ddc97" stroke-width="2" />
<line x1="613.00" y1="364.10" x2="620.00" y2="364.10" stroke="#3ddc97" stroke-width="1.2" />
<line x1="616.50" y1="360.60" x2="616.50" y2="367.60" stroke="#3ddc97" stroke-width="1.2" />
<text x="631.20" y="369.80" font-size="11.8" text-anchor="start" fill="#f0ece8" font-weight="normal" font-style="normal" >High</text>
<line x1="609.50" y1="382.90" x2="623.50" y2="382.90" stroke="#d0662a" stroke-width="2" />
<line x1="613.00" y1="381.50" x2="620.00" y2="381.50" stroke="#d0662a" stroke-width="1.2" />
<line x1="616.50" y1="378.00" x2="616.50" y2="385.00" stroke="#d0662a" stroke-width="1.2" />
<text x="631.20" y="387.20" font-size="11.8" text-anchor="start" fill="#f0ece8" font-weight="normal" font-style="normal" >Low</text>
<text x="421.90" y="587.80" font-size="11.8" text-anchor="start" fill="#f0ece8" font-weight="bold" font-style="normal" >Number</text>
<line x1="421.40" y1="596.00" x2="421.40" y2="645.60" stroke="#bcacaa" stroke-width="1.5" />
<line x1="420.65" y1="644.90" x2="683.90" y2="644.90" stroke="#bcacaa" stroke-width="1.5" />
<line x1="433.60" y1="644.90" x2="433.60" y2="648.20" stroke="#bcacaa" stroke-width="1.2" />
<line x1="465.40" y1="644.90" x2="465.40" y2="648.20" stroke="#bcacaa" stroke-width="1.2" />
<line x1="497.20" y1="644.90" x2="497.20" y2="648.20" stroke="#bcacaa" stroke-width="1.2" />
<line x1="529.00" y1="644.90" x2="529.00" y2="648.20" stroke="#bcacaa" stroke-width="1.2" />
<line x1="560.80" y1="644.90" x2="560.80" y2="648.20" stroke="#bcacaa" stroke-width="1.2" />
<line x1="592.60" y1="644.90" x2="592.60" y2="648.20" stroke="#bcacaa" stroke-width="1.2" />
<line x1="624.40" y1="644.90" x2="624.40" y2="648.20" stroke="#bcacaa" stroke-width="1.2" />
<line x1="656.20" y1="644.90" x2="656.20" y2="648.20" stroke="#bcacaa" stroke-width="1.2" />
<line x1="418.30" y1="609.70" x2="421.50" y2="609.70" stroke="#bcacaa" stroke-width="1.2" />
<g transform="translate(415.60,612.70) scale(1,1.13)"><text x="0" y="0" font-size="11.6" text-anchor="end" fill="#3ddc97" font-weight="bold">High</text></g>
<text x="433.60" y="613.90" font-size="11.6" text-anchor="middle" fill="#f0ece8" font-weight="normal" font-style="normal" >171</text>
<text x="465.40" y="613.90" font-size="11.6" text-anchor="middle" fill="#f0ece8" font-weight="normal" font-style="normal" >72</text>
<text x="497.20" y="613.90" font-size="11.6" text-anchor="middle" fill="#f0ece8" font-weight="normal" font-style="normal" >27</text>
<text x="529.00" y="613.90" font-size="11.6" text-anchor="middle" fill="#f0ece8" font-weight="normal" font-style="normal" >13</text>
<text x="560.80" y="613.90" font-size="11.6" text-anchor="middle" fill="#f0ece8" font-weight="normal" font-style="normal" >5</text>
<text x="592.60" y="613.90" font-size="11.6" text-anchor="middle" fill="#f0ece8" font-weight="normal" font-style="normal" >2</text>
<text x="624.40" y="613.90" font-size="11.6" text-anchor="middle" fill="#f0ece8" font-weight="normal" font-style="normal" >0</text>
<text x="656.20" y="613.90" font-size="11.6" text-anchor="middle" fill="#f0ece8" font-weight="normal" font-style="normal" >0</text>
<line x1="418.30" y1="631.50" x2="421.50" y2="631.50" stroke="#bcacaa" stroke-width="1.2" />
<g transform="translate(415.60,634.50) scale(1,1.13)"><text x="0" y="0" font-size="11.6" text-anchor="end" fill="#d0662a" font-weight="bold">Low</text></g>
<text x="433.60" y="635.70" font-size="11.6" text-anchor="middle" fill="#f0ece8" font-weight="normal" font-style="normal" >45</text>
<text x="465.40" y="635.70" font-size="11.6" text-anchor="middle" fill="#f0ece8" font-weight="normal" font-style="normal" >29</text>
<text x="497.20" y="635.70" font-size="11.6" text-anchor="middle" fill="#f0ece8" font-weight="normal" font-style="normal" >17</text>
<text x="529.00" y="635.70" font-size="11.6" text-anchor="middle" fill="#f0ece8" font-weight="normal" font-style="normal" >11</text>
<text x="560.80" y="635.70" font-size="11.6" text-anchor="middle" fill="#f0ece8" font-weight="normal" font-style="normal" >4</text>
<text x="592.60" y="635.70" font-size="11.6" text-anchor="middle" fill="#f0ece8" font-weight="normal" font-style="normal" >4</text>
<text x="624.40" y="635.70" font-size="11.6" text-anchor="middle" fill="#f0ece8" font-weight="normal" font-style="normal" >2</text>
<text x="656.20" y="635.70" font-size="11.6" text-anchor="middle" fill="#f0ece8" font-weight="normal" font-style="normal" >1</text>
</svg>
</body></html>
